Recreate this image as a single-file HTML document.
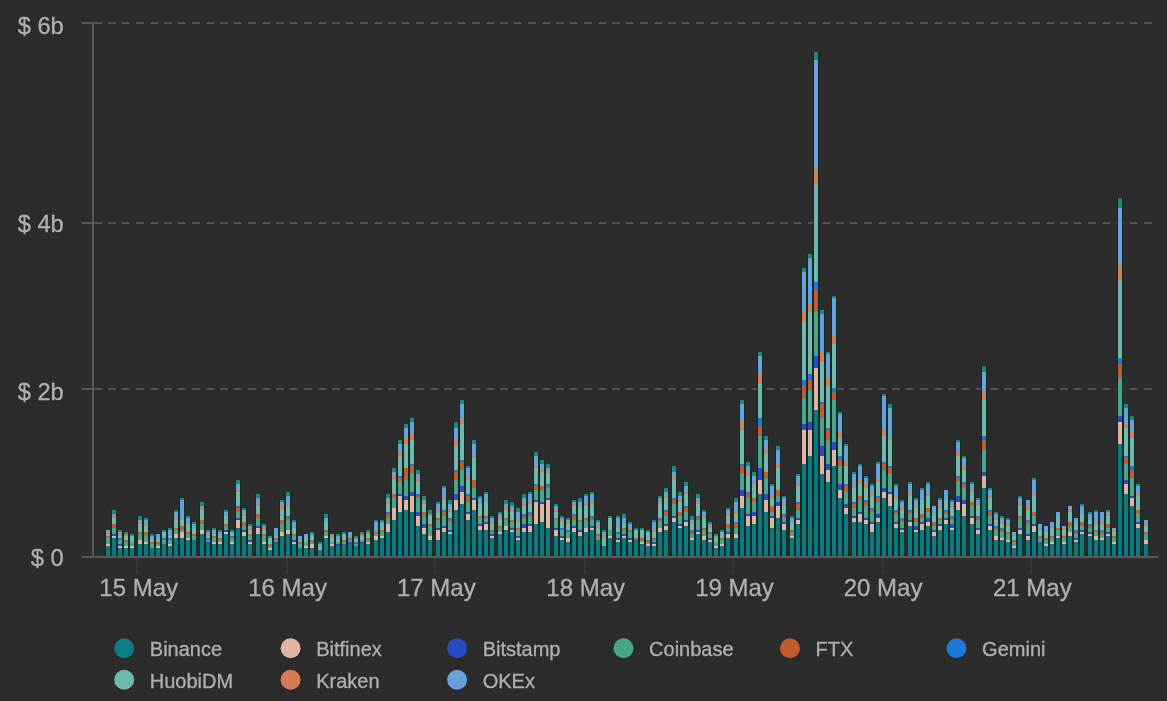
<!DOCTYPE html>
<html><head><meta charset="utf-8"><title>Volume by exchange</title>
<style>
html,body{margin:0;padding:0;background:#2c2c2c;}
body{width:1167px;height:701px;overflow:hidden;}
svg{display:block;}
text{font-family:"Liberation Sans",Arial,sans-serif;fill:#b0b0b0;stroke:#b0b0b0;stroke-width:0.3px;}
.ax{font-size:24px;}
.lg{font-size:20px;}
</style></head><body>
<svg width="1167" height="701" viewBox="0 0 1167 701">
<rect x="0" y="0" width="1167" height="701" fill="#2c2c2c"/>
<g fill="#505050" shape-rendering="crispEdges"><rect x="94" y="22" width="8" height="2"/><rect x="108" y="22" width="8" height="2"/><rect x="122" y="22" width="8" height="2"/><rect x="136" y="22" width="8" height="2"/><rect x="150" y="22" width="8" height="2"/><rect x="164" y="22" width="8" height="2"/><rect x="178" y="22" width="8" height="2"/><rect x="192" y="22" width="8" height="2"/><rect x="206" y="22" width="8" height="2"/><rect x="220" y="22" width="8" height="2"/><rect x="234" y="22" width="8" height="2"/><rect x="248" y="22" width="8" height="2"/><rect x="262" y="22" width="8" height="2"/><rect x="276" y="22" width="8" height="2"/><rect x="290" y="22" width="8" height="2"/><rect x="304" y="22" width="8" height="2"/><rect x="318" y="22" width="8" height="2"/><rect x="332" y="22" width="8" height="2"/><rect x="346" y="22" width="8" height="2"/><rect x="360" y="22" width="8" height="2"/><rect x="374" y="22" width="8" height="2"/><rect x="388" y="22" width="8" height="2"/><rect x="402" y="22" width="8" height="2"/><rect x="416" y="22" width="8" height="2"/><rect x="430" y="22" width="8" height="2"/><rect x="444" y="22" width="8" height="2"/><rect x="458" y="22" width="8" height="2"/><rect x="472" y="22" width="8" height="2"/><rect x="486" y="22" width="8" height="2"/><rect x="500" y="22" width="8" height="2"/><rect x="514" y="22" width="8" height="2"/><rect x="528" y="22" width="8" height="2"/><rect x="542" y="22" width="8" height="2"/><rect x="556" y="22" width="8" height="2"/><rect x="570" y="22" width="8" height="2"/><rect x="584" y="22" width="8" height="2"/><rect x="598" y="22" width="8" height="2"/><rect x="612" y="22" width="8" height="2"/><rect x="626" y="22" width="8" height="2"/><rect x="640" y="22" width="8" height="2"/><rect x="654" y="22" width="8" height="2"/><rect x="668" y="22" width="8" height="2"/><rect x="682" y="22" width="8" height="2"/><rect x="696" y="22" width="8" height="2"/><rect x="710" y="22" width="8" height="2"/><rect x="724" y="22" width="8" height="2"/><rect x="738" y="22" width="8" height="2"/><rect x="752" y="22" width="8" height="2"/><rect x="766" y="22" width="8" height="2"/><rect x="780" y="22" width="8" height="2"/><rect x="794" y="22" width="8" height="2"/><rect x="808" y="22" width="8" height="2"/><rect x="822" y="22" width="8" height="2"/><rect x="836" y="22" width="8" height="2"/><rect x="850" y="22" width="8" height="2"/><rect x="864" y="22" width="8" height="2"/><rect x="878" y="22" width="8" height="2"/><rect x="892" y="22" width="8" height="2"/><rect x="906" y="22" width="8" height="2"/><rect x="920" y="22" width="8" height="2"/><rect x="934" y="22" width="8" height="2"/><rect x="948" y="22" width="8" height="2"/><rect x="962" y="22" width="8" height="2"/><rect x="976" y="22" width="8" height="2"/><rect x="990" y="22" width="8" height="2"/><rect x="1004" y="22" width="8" height="2"/><rect x="1018" y="22" width="8" height="2"/><rect x="1032" y="22" width="8" height="2"/><rect x="1046" y="22" width="8" height="2"/><rect x="1060" y="22" width="8" height="2"/><rect x="1074" y="22" width="8" height="2"/><rect x="1088" y="22" width="8" height="2"/><rect x="1102" y="22" width="8" height="2"/><rect x="1116" y="22" width="8" height="2"/><rect x="1130" y="22" width="8" height="2"/><rect x="1144" y="22" width="8" height="2"/></g>
<g fill="#505050" shape-rendering="crispEdges"><rect x="94" y="222" width="8" height="2"/><rect x="108" y="222" width="8" height="2"/><rect x="122" y="222" width="8" height="2"/><rect x="136" y="222" width="8" height="2"/><rect x="150" y="222" width="8" height="2"/><rect x="164" y="222" width="8" height="2"/><rect x="178" y="222" width="8" height="2"/><rect x="192" y="222" width="8" height="2"/><rect x="206" y="222" width="8" height="2"/><rect x="220" y="222" width="8" height="2"/><rect x="234" y="222" width="8" height="2"/><rect x="248" y="222" width="8" height="2"/><rect x="262" y="222" width="8" height="2"/><rect x="276" y="222" width="8" height="2"/><rect x="290" y="222" width="8" height="2"/><rect x="304" y="222" width="8" height="2"/><rect x="318" y="222" width="8" height="2"/><rect x="332" y="222" width="8" height="2"/><rect x="346" y="222" width="8" height="2"/><rect x="360" y="222" width="8" height="2"/><rect x="374" y="222" width="8" height="2"/><rect x="388" y="222" width="8" height="2"/><rect x="402" y="222" width="8" height="2"/><rect x="416" y="222" width="8" height="2"/><rect x="430" y="222" width="8" height="2"/><rect x="444" y="222" width="8" height="2"/><rect x="458" y="222" width="8" height="2"/><rect x="472" y="222" width="8" height="2"/><rect x="486" y="222" width="8" height="2"/><rect x="500" y="222" width="8" height="2"/><rect x="514" y="222" width="8" height="2"/><rect x="528" y="222" width="8" height="2"/><rect x="542" y="222" width="8" height="2"/><rect x="556" y="222" width="8" height="2"/><rect x="570" y="222" width="8" height="2"/><rect x="584" y="222" width="8" height="2"/><rect x="598" y="222" width="8" height="2"/><rect x="612" y="222" width="8" height="2"/><rect x="626" y="222" width="8" height="2"/><rect x="640" y="222" width="8" height="2"/><rect x="654" y="222" width="8" height="2"/><rect x="668" y="222" width="8" height="2"/><rect x="682" y="222" width="8" height="2"/><rect x="696" y="222" width="8" height="2"/><rect x="710" y="222" width="8" height="2"/><rect x="724" y="222" width="8" height="2"/><rect x="738" y="222" width="8" height="2"/><rect x="752" y="222" width="8" height="2"/><rect x="766" y="222" width="8" height="2"/><rect x="780" y="222" width="8" height="2"/><rect x="794" y="222" width="8" height="2"/><rect x="808" y="222" width="8" height="2"/><rect x="822" y="222" width="8" height="2"/><rect x="836" y="222" width="8" height="2"/><rect x="850" y="222" width="8" height="2"/><rect x="864" y="222" width="8" height="2"/><rect x="878" y="222" width="8" height="2"/><rect x="892" y="222" width="8" height="2"/><rect x="906" y="222" width="8" height="2"/><rect x="920" y="222" width="8" height="2"/><rect x="934" y="222" width="8" height="2"/><rect x="948" y="222" width="8" height="2"/><rect x="962" y="222" width="8" height="2"/><rect x="976" y="222" width="8" height="2"/><rect x="990" y="222" width="8" height="2"/><rect x="1004" y="222" width="8" height="2"/><rect x="1018" y="222" width="8" height="2"/><rect x="1032" y="222" width="8" height="2"/><rect x="1046" y="222" width="8" height="2"/><rect x="1060" y="222" width="8" height="2"/><rect x="1074" y="222" width="8" height="2"/><rect x="1088" y="222" width="8" height="2"/><rect x="1102" y="222" width="8" height="2"/><rect x="1116" y="222" width="8" height="2"/><rect x="1130" y="222" width="8" height="2"/><rect x="1144" y="222" width="8" height="2"/></g>
<g fill="#505050" shape-rendering="crispEdges"><rect x="94" y="388" width="8" height="2"/><rect x="108" y="388" width="8" height="2"/><rect x="122" y="388" width="8" height="2"/><rect x="136" y="388" width="8" height="2"/><rect x="150" y="388" width="8" height="2"/><rect x="164" y="388" width="8" height="2"/><rect x="178" y="388" width="8" height="2"/><rect x="192" y="388" width="8" height="2"/><rect x="206" y="388" width="8" height="2"/><rect x="220" y="388" width="8" height="2"/><rect x="234" y="388" width="8" height="2"/><rect x="248" y="388" width="8" height="2"/><rect x="262" y="388" width="8" height="2"/><rect x="276" y="388" width="8" height="2"/><rect x="290" y="388" width="8" height="2"/><rect x="304" y="388" width="8" height="2"/><rect x="318" y="388" width="8" height="2"/><rect x="332" y="388" width="8" height="2"/><rect x="346" y="388" width="8" height="2"/><rect x="360" y="388" width="8" height="2"/><rect x="374" y="388" width="8" height="2"/><rect x="388" y="388" width="8" height="2"/><rect x="402" y="388" width="8" height="2"/><rect x="416" y="388" width="8" height="2"/><rect x="430" y="388" width="8" height="2"/><rect x="444" y="388" width="8" height="2"/><rect x="458" y="388" width="8" height="2"/><rect x="472" y="388" width="8" height="2"/><rect x="486" y="388" width="8" height="2"/><rect x="500" y="388" width="8" height="2"/><rect x="514" y="388" width="8" height="2"/><rect x="528" y="388" width="8" height="2"/><rect x="542" y="388" width="8" height="2"/><rect x="556" y="388" width="8" height="2"/><rect x="570" y="388" width="8" height="2"/><rect x="584" y="388" width="8" height="2"/><rect x="598" y="388" width="8" height="2"/><rect x="612" y="388" width="8" height="2"/><rect x="626" y="388" width="8" height="2"/><rect x="640" y="388" width="8" height="2"/><rect x="654" y="388" width="8" height="2"/><rect x="668" y="388" width="8" height="2"/><rect x="682" y="388" width="8" height="2"/><rect x="696" y="388" width="8" height="2"/><rect x="710" y="388" width="8" height="2"/><rect x="724" y="388" width="8" height="2"/><rect x="738" y="388" width="8" height="2"/><rect x="752" y="388" width="8" height="2"/><rect x="766" y="388" width="8" height="2"/><rect x="780" y="388" width="8" height="2"/><rect x="794" y="388" width="8" height="2"/><rect x="808" y="388" width="8" height="2"/><rect x="822" y="388" width="8" height="2"/><rect x="836" y="388" width="8" height="2"/><rect x="850" y="388" width="8" height="2"/><rect x="864" y="388" width="8" height="2"/><rect x="878" y="388" width="8" height="2"/><rect x="892" y="388" width="8" height="2"/><rect x="906" y="388" width="8" height="2"/><rect x="920" y="388" width="8" height="2"/><rect x="934" y="388" width="8" height="2"/><rect x="948" y="388" width="8" height="2"/><rect x="962" y="388" width="8" height="2"/><rect x="976" y="388" width="8" height="2"/><rect x="990" y="388" width="8" height="2"/><rect x="1004" y="388" width="8" height="2"/><rect x="1018" y="388" width="8" height="2"/><rect x="1032" y="388" width="8" height="2"/><rect x="1046" y="388" width="8" height="2"/><rect x="1060" y="388" width="8" height="2"/><rect x="1074" y="388" width="8" height="2"/><rect x="1088" y="388" width="8" height="2"/><rect x="1102" y="388" width="8" height="2"/><rect x="1116" y="388" width="8" height="2"/><rect x="1130" y="388" width="8" height="2"/><rect x="1144" y="388" width="8" height="2"/></g>
<rect x="82" y="22" width="12" height="2" fill="#595959" shape-rendering="crispEdges"/>
<rect x="82" y="222" width="12" height="2" fill="#595959" shape-rendering="crispEdges"/>
<rect x="82" y="388" width="12" height="2" fill="#595959" shape-rendering="crispEdges"/>
<rect x="92" y="22" width="2" height="536" fill="#595959" shape-rendering="crispEdges"/>
<rect x="136" y="558" width="2" height="16" fill="#373737" shape-rendering="crispEdges"/>
<rect x="286" y="558" width="2" height="16" fill="#373737" shape-rendering="crispEdges"/>
<rect x="434" y="558" width="2" height="16" fill="#373737" shape-rendering="crispEdges"/>
<rect x="584" y="558" width="2" height="16" fill="#373737" shape-rendering="crispEdges"/>
<rect x="732" y="558" width="2" height="16" fill="#373737" shape-rendering="crispEdges"/>
<rect x="882" y="558" width="2" height="16" fill="#373737" shape-rendering="crispEdges"/>
<rect x="1030" y="558" width="2" height="16" fill="#373737" shape-rendering="crispEdges"/>
<defs><filter id="soft" x="0" y="0" width="1167" height="701" filterUnits="userSpaceOnUse"><feGaussianBlur stdDeviation="0.55"/></filter></defs>
<g shape-rendering="crispEdges" filter="url(#soft)">
<rect x="105" y="530" width="6" height="26" fill="#0d2a26"/>
<rect x="111" y="510" width="6" height="46" fill="#0d2a26"/>
<rect x="117" y="530" width="6" height="26" fill="#0d2a26"/>
<rect x="123" y="532" width="6" height="24" fill="#0d2a26"/>
<rect x="129" y="534" width="6" height="22" fill="#0d2a26"/>
<rect x="137" y="516" width="6" height="40" fill="#0d2a26"/>
<rect x="143" y="518" width="6" height="38" fill="#0d2a26"/>
<rect x="149" y="534" width="6" height="22" fill="#0d2a26"/>
<rect x="155" y="534" width="6" height="22" fill="#0d2a26"/>
<rect x="161" y="530" width="6" height="26" fill="#0d2a26"/>
<rect x="167" y="528" width="6" height="28" fill="#0d2a26"/>
<rect x="173" y="510" width="6" height="46" fill="#0d2a26"/>
<rect x="179" y="498" width="6" height="58" fill="#0d2a26"/>
<rect x="185" y="516" width="6" height="40" fill="#0d2a26"/>
<rect x="191" y="522" width="6" height="34" fill="#0d2a26"/>
<rect x="199" y="502" width="6" height="54" fill="#0d2a26"/>
<rect x="205" y="530" width="6" height="26" fill="#0d2a26"/>
<rect x="211" y="528" width="6" height="28" fill="#0d2a26"/>
<rect x="217" y="530" width="6" height="26" fill="#0d2a26"/>
<rect x="223" y="510" width="6" height="46" fill="#0d2a26"/>
<rect x="229" y="530" width="6" height="26" fill="#0d2a26"/>
<rect x="235" y="480" width="6" height="76" fill="#0d2a26"/>
<rect x="241" y="508" width="6" height="48" fill="#0d2a26"/>
<rect x="247" y="524" width="6" height="32" fill="#0d2a26"/>
<rect x="255" y="494" width="6" height="62" fill="#0d2a26"/>
<rect x="261" y="524" width="6" height="32" fill="#0d2a26"/>
<rect x="267" y="536" width="6" height="20" fill="#0d2a26"/>
<rect x="273" y="528" width="6" height="28" fill="#0d2a26"/>
<rect x="279" y="500" width="6" height="56" fill="#0d2a26"/>
<rect x="285" y="492" width="6" height="64" fill="#0d2a26"/>
<rect x="291" y="520" width="6" height="36" fill="#0d2a26"/>
<rect x="297" y="536" width="6" height="20" fill="#0d2a26"/>
<rect x="303" y="534" width="6" height="22" fill="#0d2a26"/>
<rect x="309" y="532" width="6" height="24" fill="#0d2a26"/>
<rect x="317" y="542" width="6" height="14" fill="#0d2a26"/>
<rect x="323" y="514" width="6" height="42" fill="#0d2a26"/>
<rect x="329" y="534" width="6" height="22" fill="#0d2a26"/>
<rect x="335" y="534" width="6" height="22" fill="#0d2a26"/>
<rect x="341" y="532" width="6" height="24" fill="#0d2a26"/>
<rect x="347" y="532" width="6" height="24" fill="#0d2a26"/>
<rect x="353" y="536" width="6" height="20" fill="#0d2a26"/>
<rect x="359" y="532" width="6" height="24" fill="#0d2a26"/>
<rect x="365" y="530" width="6" height="26" fill="#0d2a26"/>
<rect x="373" y="520" width="6" height="36" fill="#0d2a26"/>
<rect x="379" y="520" width="6" height="36" fill="#0d2a26"/>
<rect x="385" y="494" width="6" height="62" fill="#0d2a26"/>
<rect x="391" y="468" width="6" height="88" fill="#0d2a26"/>
<rect x="397" y="440" width="6" height="116" fill="#0d2a26"/>
<rect x="403" y="424" width="6" height="132" fill="#0d2a26"/>
<rect x="409" y="418" width="6" height="138" fill="#0d2a26"/>
<rect x="415" y="470" width="6" height="86" fill="#0d2a26"/>
<rect x="421" y="496" width="6" height="60" fill="#0d2a26"/>
<rect x="427" y="510" width="6" height="46" fill="#0d2a26"/>
<rect x="435" y="502" width="6" height="54" fill="#0d2a26"/>
<rect x="441" y="486" width="6" height="70" fill="#0d2a26"/>
<rect x="447" y="500" width="6" height="56" fill="#0d2a26"/>
<rect x="453" y="422" width="6" height="134" fill="#0d2a26"/>
<rect x="459" y="400" width="6" height="156" fill="#0d2a26"/>
<rect x="465" y="466" width="6" height="90" fill="#0d2a26"/>
<rect x="471" y="440" width="6" height="116" fill="#0d2a26"/>
<rect x="477" y="496" width="6" height="60" fill="#0d2a26"/>
<rect x="483" y="492" width="6" height="64" fill="#0d2a26"/>
<rect x="489" y="516" width="6" height="40" fill="#0d2a26"/>
<rect x="497" y="512" width="6" height="44" fill="#0d2a26"/>
<rect x="503" y="500" width="6" height="56" fill="#0d2a26"/>
<rect x="509" y="502" width="6" height="54" fill="#0d2a26"/>
<rect x="515" y="508" width="6" height="48" fill="#0d2a26"/>
<rect x="521" y="494" width="6" height="62" fill="#0d2a26"/>
<rect x="527" y="492" width="6" height="64" fill="#0d2a26"/>
<rect x="533" y="452" width="6" height="104" fill="#0d2a26"/>
<rect x="539" y="460" width="6" height="96" fill="#0d2a26"/>
<rect x="545" y="464" width="6" height="92" fill="#0d2a26"/>
<rect x="553" y="504" width="6" height="52" fill="#0d2a26"/>
<rect x="559" y="516" width="6" height="40" fill="#0d2a26"/>
<rect x="565" y="518" width="6" height="38" fill="#0d2a26"/>
<rect x="571" y="500" width="6" height="56" fill="#0d2a26"/>
<rect x="577" y="498" width="6" height="58" fill="#0d2a26"/>
<rect x="583" y="494" width="6" height="62" fill="#0d2a26"/>
<rect x="589" y="492" width="6" height="64" fill="#0d2a26"/>
<rect x="595" y="520" width="6" height="36" fill="#0d2a26"/>
<rect x="601" y="530" width="6" height="26" fill="#0d2a26"/>
<rect x="607" y="516" width="6" height="40" fill="#0d2a26"/>
<rect x="615" y="516" width="6" height="40" fill="#0d2a26"/>
<rect x="621" y="514" width="6" height="42" fill="#0d2a26"/>
<rect x="627" y="522" width="6" height="34" fill="#0d2a26"/>
<rect x="633" y="528" width="6" height="28" fill="#0d2a26"/>
<rect x="639" y="528" width="6" height="28" fill="#0d2a26"/>
<rect x="645" y="530" width="6" height="26" fill="#0d2a26"/>
<rect x="651" y="520" width="6" height="36" fill="#0d2a26"/>
<rect x="657" y="496" width="6" height="60" fill="#0d2a26"/>
<rect x="663" y="488" width="6" height="68" fill="#0d2a26"/>
<rect x="671" y="466" width="6" height="90" fill="#0d2a26"/>
<rect x="677" y="492" width="6" height="64" fill="#0d2a26"/>
<rect x="683" y="482" width="6" height="74" fill="#0d2a26"/>
<rect x="689" y="516" width="6" height="40" fill="#0d2a26"/>
<rect x="695" y="494" width="6" height="62" fill="#0d2a26"/>
<rect x="701" y="510" width="6" height="46" fill="#0d2a26"/>
<rect x="707" y="522" width="6" height="34" fill="#0d2a26"/>
<rect x="713" y="534" width="6" height="22" fill="#0d2a26"/>
<rect x="719" y="530" width="6" height="26" fill="#0d2a26"/>
<rect x="725" y="508" width="6" height="48" fill="#0d2a26"/>
<rect x="733" y="498" width="6" height="58" fill="#0d2a26"/>
<rect x="739" y="400" width="6" height="156" fill="#0d2a26"/>
<rect x="745" y="462" width="6" height="94" fill="#0d2a26"/>
<rect x="751" y="472" width="6" height="84" fill="#0d2a26"/>
<rect x="757" y="352" width="6" height="204" fill="#0d2a26"/>
<rect x="763" y="436" width="6" height="120" fill="#0d2a26"/>
<rect x="769" y="484" width="6" height="72" fill="#0d2a26"/>
<rect x="775" y="446" width="6" height="110" fill="#0d2a26"/>
<rect x="781" y="496" width="6" height="60" fill="#0d2a26"/>
<rect x="789" y="516" width="6" height="40" fill="#0d2a26"/>
<rect x="795" y="474" width="6" height="82" fill="#0d2a26"/>
<rect x="801" y="268" width="6" height="288" fill="#0d2a26"/>
<rect x="807" y="254" width="6" height="302" fill="#0d2a26"/>
<rect x="813" y="52" width="6" height="504" fill="#0d2a26"/>
<rect x="819" y="310" width="6" height="246" fill="#0d2a26"/>
<rect x="825" y="352" width="6" height="204" fill="#0d2a26"/>
<rect x="831" y="296" width="6" height="260" fill="#0d2a26"/>
<rect x="837" y="412" width="6" height="144" fill="#0d2a26"/>
<rect x="843" y="444" width="6" height="112" fill="#0d2a26"/>
<rect x="851" y="472" width="6" height="84" fill="#0d2a26"/>
<rect x="857" y="464" width="6" height="92" fill="#0d2a26"/>
<rect x="863" y="476" width="6" height="80" fill="#0d2a26"/>
<rect x="869" y="484" width="6" height="72" fill="#0d2a26"/>
<rect x="875" y="462" width="6" height="94" fill="#0d2a26"/>
<rect x="881" y="394" width="6" height="162" fill="#0d2a26"/>
<rect x="887" y="404" width="6" height="152" fill="#0d2a26"/>
<rect x="893" y="484" width="6" height="72" fill="#0d2a26"/>
<rect x="899" y="500" width="6" height="56" fill="#0d2a26"/>
<rect x="907" y="482" width="6" height="74" fill="#0d2a26"/>
<rect x="913" y="498" width="6" height="58" fill="#0d2a26"/>
<rect x="919" y="488" width="6" height="68" fill="#0d2a26"/>
<rect x="925" y="482" width="6" height="74" fill="#0d2a26"/>
<rect x="931" y="506" width="6" height="50" fill="#0d2a26"/>
<rect x="937" y="498" width="6" height="58" fill="#0d2a26"/>
<rect x="943" y="490" width="6" height="66" fill="#0d2a26"/>
<rect x="949" y="500" width="6" height="56" fill="#0d2a26"/>
<rect x="955" y="440" width="6" height="116" fill="#0d2a26"/>
<rect x="961" y="456" width="6" height="100" fill="#0d2a26"/>
<rect x="969" y="482" width="6" height="74" fill="#0d2a26"/>
<rect x="975" y="498" width="6" height="58" fill="#0d2a26"/>
<rect x="981" y="366" width="6" height="190" fill="#0d2a26"/>
<rect x="987" y="488" width="6" height="68" fill="#0d2a26"/>
<rect x="993" y="512" width="6" height="44" fill="#0d2a26"/>
<rect x="999" y="516" width="6" height="40" fill="#0d2a26"/>
<rect x="1005" y="518" width="6" height="38" fill="#0d2a26"/>
<rect x="1011" y="532" width="6" height="24" fill="#0d2a26"/>
<rect x="1017" y="496" width="6" height="60" fill="#0d2a26"/>
<rect x="1025" y="500" width="6" height="56" fill="#0d2a26"/>
<rect x="1031" y="478" width="6" height="78" fill="#0d2a26"/>
<rect x="1037" y="524" width="6" height="32" fill="#0d2a26"/>
<rect x="1043" y="526" width="6" height="30" fill="#0d2a26"/>
<rect x="1049" y="522" width="6" height="34" fill="#0d2a26"/>
<rect x="1055" y="512" width="6" height="44" fill="#0d2a26"/>
<rect x="1061" y="526" width="6" height="30" fill="#0d2a26"/>
<rect x="1067" y="506" width="6" height="50" fill="#0d2a26"/>
<rect x="1073" y="518" width="6" height="38" fill="#0d2a26"/>
<rect x="1079" y="504" width="6" height="52" fill="#0d2a26"/>
<rect x="1087" y="512" width="6" height="44" fill="#0d2a26"/>
<rect x="1093" y="510" width="6" height="46" fill="#0d2a26"/>
<rect x="1099" y="512" width="6" height="44" fill="#0d2a26"/>
<rect x="1105" y="510" width="6" height="46" fill="#0d2a26"/>
<rect x="1111" y="528" width="6" height="28" fill="#0d2a26"/>
<rect x="1117" y="198" width="6" height="358" fill="#0d2a26"/>
<rect x="1123" y="404" width="6" height="152" fill="#0d2a26"/>
<rect x="1129" y="416" width="6" height="140" fill="#0d2a26"/>
<rect x="1135" y="484" width="6" height="72" fill="#0d2a26"/>
<rect x="1143" y="520" width="6" height="36" fill="#0d2a26"/>
<rect x="106" y="546" width="4" height="10" fill="#0d797e"/>
<rect x="106" y="544" width="4" height="2" fill="#e0b3a2"/>
<rect x="106" y="538" width="4" height="6" fill="#48a58b"/>
<rect x="106" y="536" width="4" height="2" fill="#c25b2f"/>
<rect x="106" y="534" width="4" height="2" fill="#6fb9ac"/>
<rect x="106" y="532" width="4" height="2" fill="#d67c54"/>
<rect x="106" y="530" width="4" height="2" fill="#66a2d9"/>
<rect x="112" y="538" width="4" height="18" fill="#0d797e"/>
<rect x="112" y="536" width="4" height="2" fill="#e0b3a2"/>
<rect x="112" y="534" width="4" height="2" fill="#2a4bc2"/>
<rect x="112" y="528" width="4" height="6" fill="#48a58b"/>
<rect x="112" y="524" width="4" height="4" fill="#c25b2f"/>
<rect x="112" y="518" width="4" height="6" fill="#6fb9ac"/>
<rect x="112" y="516" width="4" height="2" fill="#d67c54"/>
<rect x="112" y="514" width="4" height="2" fill="#66a2d9"/>
<rect x="112" y="510" width="4" height="4" fill="#1a8b74"/>
<rect x="118" y="548" width="4" height="8" fill="#0d797e"/>
<rect x="118" y="546" width="4" height="2" fill="#e0b3a2"/>
<rect x="118" y="544" width="4" height="2" fill="#2a4bc2"/>
<rect x="118" y="540" width="4" height="4" fill="#48a58b"/>
<rect x="118" y="538" width="4" height="2" fill="#1c78d8"/>
<rect x="118" y="536" width="4" height="2" fill="#6fb9ac"/>
<rect x="118" y="534" width="4" height="2" fill="#d67c54"/>
<rect x="118" y="532" width="4" height="2" fill="#66a2d9"/>
<rect x="118" y="530" width="4" height="2" fill="#1a8b74"/>
<rect x="124" y="548" width="4" height="8" fill="#0d797e"/>
<rect x="124" y="546" width="4" height="2" fill="#e0b3a2"/>
<rect x="124" y="542" width="4" height="4" fill="#48a58b"/>
<rect x="124" y="540" width="4" height="2" fill="#c25b2f"/>
<rect x="124" y="536" width="4" height="4" fill="#6fb9ac"/>
<rect x="124" y="534" width="4" height="2" fill="#d67c54"/>
<rect x="124" y="532" width="4" height="2" fill="#1a8b74"/>
<rect x="130" y="548" width="4" height="8" fill="#0d797e"/>
<rect x="130" y="546" width="4" height="2" fill="#e0b3a2"/>
<rect x="130" y="542" width="4" height="4" fill="#48a58b"/>
<rect x="130" y="536" width="4" height="6" fill="#6fb9ac"/>
<rect x="130" y="534" width="4" height="2" fill="#1a8b74"/>
<rect x="138" y="544" width="4" height="12" fill="#0d797e"/>
<rect x="138" y="540" width="4" height="4" fill="#e0b3a2"/>
<rect x="138" y="534" width="4" height="6" fill="#48a58b"/>
<rect x="138" y="532" width="4" height="2" fill="#c25b2f"/>
<rect x="138" y="524" width="4" height="8" fill="#6fb9ac"/>
<rect x="138" y="522" width="4" height="2" fill="#d67c54"/>
<rect x="138" y="520" width="4" height="2" fill="#66a2d9"/>
<rect x="138" y="516" width="4" height="4" fill="#1a8b74"/>
<rect x="144" y="544" width="4" height="12" fill="#0d797e"/>
<rect x="144" y="542" width="4" height="2" fill="#e0b3a2"/>
<rect x="144" y="536" width="4" height="6" fill="#48a58b"/>
<rect x="144" y="532" width="4" height="4" fill="#c25b2f"/>
<rect x="144" y="526" width="4" height="6" fill="#6fb9ac"/>
<rect x="144" y="524" width="4" height="2" fill="#d67c54"/>
<rect x="144" y="520" width="4" height="4" fill="#66a2d9"/>
<rect x="144" y="518" width="4" height="2" fill="#1a8b74"/>
<rect x="150" y="548" width="4" height="8" fill="#0d797e"/>
<rect x="150" y="544" width="4" height="4" fill="#48a58b"/>
<rect x="150" y="542" width="4" height="2" fill="#c25b2f"/>
<rect x="150" y="540" width="4" height="2" fill="#6fb9ac"/>
<rect x="150" y="536" width="4" height="4" fill="#66a2d9"/>
<rect x="150" y="534" width="4" height="2" fill="#1a8b74"/>
<rect x="156" y="548" width="4" height="8" fill="#0d797e"/>
<rect x="156" y="546" width="4" height="2" fill="#e0b3a2"/>
<rect x="156" y="544" width="4" height="2" fill="#48a58b"/>
<rect x="156" y="542" width="4" height="2" fill="#c25b2f"/>
<rect x="156" y="538" width="4" height="4" fill="#6fb9ac"/>
<rect x="156" y="534" width="4" height="4" fill="#66a2d9"/>
<rect x="162" y="544" width="4" height="12" fill="#0d797e"/>
<rect x="162" y="540" width="4" height="4" fill="#48a58b"/>
<rect x="162" y="538" width="4" height="2" fill="#1c78d8"/>
<rect x="162" y="532" width="4" height="6" fill="#6fb9ac"/>
<rect x="162" y="530" width="4" height="2" fill="#1a8b74"/>
<rect x="168" y="546" width="4" height="10" fill="#0d797e"/>
<rect x="168" y="544" width="4" height="2" fill="#e0b3a2"/>
<rect x="168" y="540" width="4" height="4" fill="#48a58b"/>
<rect x="168" y="538" width="4" height="2" fill="#1c78d8"/>
<rect x="168" y="536" width="4" height="2" fill="#6fb9ac"/>
<rect x="168" y="530" width="4" height="6" fill="#66a2d9"/>
<rect x="168" y="528" width="4" height="2" fill="#1a8b74"/>
<rect x="174" y="538" width="4" height="18" fill="#0d797e"/>
<rect x="174" y="534" width="4" height="4" fill="#e0b3a2"/>
<rect x="174" y="530" width="4" height="4" fill="#48a58b"/>
<rect x="174" y="528" width="4" height="2" fill="#c25b2f"/>
<rect x="174" y="520" width="4" height="8" fill="#6fb9ac"/>
<rect x="174" y="518" width="4" height="2" fill="#d67c54"/>
<rect x="174" y="512" width="4" height="6" fill="#66a2d9"/>
<rect x="174" y="510" width="4" height="2" fill="#1a8b74"/>
<rect x="180" y="538" width="4" height="18" fill="#0d797e"/>
<rect x="180" y="532" width="4" height="6" fill="#e0b3a2"/>
<rect x="180" y="530" width="4" height="2" fill="#48a58b"/>
<rect x="180" y="526" width="4" height="4" fill="#c25b2f"/>
<rect x="180" y="520" width="4" height="6" fill="#6fb9ac"/>
<rect x="180" y="500" width="4" height="20" fill="#66a2d9"/>
<rect x="180" y="498" width="4" height="2" fill="#1a8b74"/>
<rect x="186" y="540" width="4" height="16" fill="#0d797e"/>
<rect x="186" y="538" width="4" height="2" fill="#e0b3a2"/>
<rect x="186" y="534" width="4" height="4" fill="#48a58b"/>
<rect x="186" y="532" width="4" height="2" fill="#c25b2f"/>
<rect x="186" y="524" width="4" height="8" fill="#6fb9ac"/>
<rect x="186" y="518" width="4" height="6" fill="#66a2d9"/>
<rect x="186" y="516" width="4" height="2" fill="#1a8b74"/>
<rect x="192" y="540" width="4" height="16" fill="#0d797e"/>
<rect x="192" y="536" width="4" height="4" fill="#48a58b"/>
<rect x="192" y="534" width="4" height="2" fill="#c25b2f"/>
<rect x="192" y="528" width="4" height="6" fill="#6fb9ac"/>
<rect x="192" y="524" width="4" height="4" fill="#66a2d9"/>
<rect x="192" y="522" width="4" height="2" fill="#1a8b74"/>
<rect x="200" y="534" width="4" height="22" fill="#0d797e"/>
<rect x="200" y="530" width="4" height="4" fill="#e0b3a2"/>
<rect x="200" y="524" width="4" height="6" fill="#48a58b"/>
<rect x="200" y="520" width="4" height="4" fill="#c25b2f"/>
<rect x="200" y="510" width="4" height="10" fill="#6fb9ac"/>
<rect x="200" y="508" width="4" height="2" fill="#d67c54"/>
<rect x="200" y="506" width="4" height="2" fill="#66a2d9"/>
<rect x="200" y="502" width="4" height="4" fill="#1a8b74"/>
<rect x="206" y="544" width="4" height="12" fill="#0d797e"/>
<rect x="206" y="542" width="4" height="2" fill="#2a4bc2"/>
<rect x="206" y="540" width="4" height="2" fill="#48a58b"/>
<rect x="206" y="538" width="4" height="2" fill="#1c78d8"/>
<rect x="206" y="536" width="4" height="2" fill="#6fb9ac"/>
<rect x="206" y="534" width="4" height="2" fill="#d67c54"/>
<rect x="206" y="532" width="4" height="2" fill="#66a2d9"/>
<rect x="206" y="530" width="4" height="2" fill="#1a8b74"/>
<rect x="212" y="544" width="4" height="12" fill="#0d797e"/>
<rect x="212" y="542" width="4" height="2" fill="#e0b3a2"/>
<rect x="212" y="538" width="4" height="4" fill="#48a58b"/>
<rect x="212" y="536" width="4" height="2" fill="#c25b2f"/>
<rect x="212" y="534" width="4" height="2" fill="#6fb9ac"/>
<rect x="212" y="530" width="4" height="4" fill="#66a2d9"/>
<rect x="212" y="528" width="4" height="2" fill="#1a8b74"/>
<rect x="218" y="544" width="4" height="12" fill="#0d797e"/>
<rect x="218" y="542" width="4" height="2" fill="#e0b3a2"/>
<rect x="218" y="540" width="4" height="2" fill="#48a58b"/>
<rect x="218" y="538" width="4" height="2" fill="#c25b2f"/>
<rect x="218" y="536" width="4" height="2" fill="#6fb9ac"/>
<rect x="218" y="532" width="4" height="4" fill="#66a2d9"/>
<rect x="218" y="530" width="4" height="2" fill="#1a8b74"/>
<rect x="224" y="534" width="4" height="22" fill="#0d797e"/>
<rect x="224" y="532" width="4" height="2" fill="#e0b3a2"/>
<rect x="224" y="530" width="4" height="2" fill="#2a4bc2"/>
<rect x="224" y="526" width="4" height="4" fill="#48a58b"/>
<rect x="224" y="524" width="4" height="2" fill="#c25b2f"/>
<rect x="224" y="516" width="4" height="8" fill="#6fb9ac"/>
<rect x="224" y="512" width="4" height="4" fill="#66a2d9"/>
<rect x="224" y="510" width="4" height="2" fill="#1a8b74"/>
<rect x="230" y="544" width="4" height="12" fill="#0d797e"/>
<rect x="230" y="542" width="4" height="2" fill="#e0b3a2"/>
<rect x="230" y="538" width="4" height="4" fill="#48a58b"/>
<rect x="230" y="536" width="4" height="2" fill="#1c78d8"/>
<rect x="230" y="532" width="4" height="4" fill="#6fb9ac"/>
<rect x="230" y="530" width="4" height="2" fill="#1a8b74"/>
<rect x="236" y="528" width="4" height="28" fill="#0d797e"/>
<rect x="236" y="520" width="4" height="8" fill="#e0b3a2"/>
<rect x="236" y="518" width="4" height="2" fill="#2a4bc2"/>
<rect x="236" y="512" width="4" height="6" fill="#48a58b"/>
<rect x="236" y="508" width="4" height="4" fill="#c25b2f"/>
<rect x="236" y="506" width="4" height="2" fill="#1c78d8"/>
<rect x="236" y="492" width="4" height="14" fill="#6fb9ac"/>
<rect x="236" y="490" width="4" height="2" fill="#d67c54"/>
<rect x="236" y="484" width="4" height="6" fill="#66a2d9"/>
<rect x="236" y="480" width="4" height="4" fill="#1a8b74"/>
<rect x="242" y="536" width="4" height="20" fill="#0d797e"/>
<rect x="242" y="532" width="4" height="4" fill="#e0b3a2"/>
<rect x="242" y="530" width="4" height="2" fill="#2a4bc2"/>
<rect x="242" y="526" width="4" height="4" fill="#48a58b"/>
<rect x="242" y="522" width="4" height="4" fill="#c25b2f"/>
<rect x="242" y="516" width="4" height="6" fill="#6fb9ac"/>
<rect x="242" y="514" width="4" height="2" fill="#d67c54"/>
<rect x="242" y="510" width="4" height="4" fill="#66a2d9"/>
<rect x="242" y="508" width="4" height="2" fill="#1a8b74"/>
<rect x="248" y="544" width="4" height="12" fill="#0d797e"/>
<rect x="248" y="542" width="4" height="2" fill="#e0b3a2"/>
<rect x="248" y="540" width="4" height="2" fill="#2a4bc2"/>
<rect x="248" y="536" width="4" height="4" fill="#48a58b"/>
<rect x="248" y="534" width="4" height="2" fill="#c25b2f"/>
<rect x="248" y="530" width="4" height="4" fill="#6fb9ac"/>
<rect x="248" y="528" width="4" height="2" fill="#d67c54"/>
<rect x="248" y="526" width="4" height="2" fill="#66a2d9"/>
<rect x="248" y="524" width="4" height="2" fill="#1a8b74"/>
<rect x="256" y="534" width="4" height="22" fill="#0d797e"/>
<rect x="256" y="528" width="4" height="6" fill="#e0b3a2"/>
<rect x="256" y="526" width="4" height="2" fill="#2a4bc2"/>
<rect x="256" y="518" width="4" height="8" fill="#48a58b"/>
<rect x="256" y="514" width="4" height="4" fill="#c25b2f"/>
<rect x="256" y="506" width="4" height="8" fill="#6fb9ac"/>
<rect x="256" y="504" width="4" height="2" fill="#d67c54"/>
<rect x="256" y="498" width="4" height="6" fill="#66a2d9"/>
<rect x="256" y="494" width="4" height="4" fill="#1a8b74"/>
<rect x="262" y="544" width="4" height="12" fill="#0d797e"/>
<rect x="262" y="542" width="4" height="2" fill="#e0b3a2"/>
<rect x="262" y="536" width="4" height="6" fill="#48a58b"/>
<rect x="262" y="534" width="4" height="2" fill="#c25b2f"/>
<rect x="262" y="530" width="4" height="4" fill="#6fb9ac"/>
<rect x="262" y="528" width="4" height="2" fill="#d67c54"/>
<rect x="262" y="526" width="4" height="2" fill="#66a2d9"/>
<rect x="262" y="524" width="4" height="2" fill="#1a8b74"/>
<rect x="268" y="550" width="4" height="6" fill="#0d797e"/>
<rect x="268" y="548" width="4" height="2" fill="#e0b3a2"/>
<rect x="268" y="546" width="4" height="2" fill="#48a58b"/>
<rect x="268" y="544" width="4" height="2" fill="#c25b2f"/>
<rect x="268" y="538" width="4" height="6" fill="#6fb9ac"/>
<rect x="268" y="536" width="4" height="2" fill="#1a8b74"/>
<rect x="274" y="544" width="4" height="12" fill="#0d797e"/>
<rect x="274" y="542" width="4" height="2" fill="#2a4bc2"/>
<rect x="274" y="540" width="4" height="2" fill="#48a58b"/>
<rect x="274" y="538" width="4" height="2" fill="#c25b2f"/>
<rect x="274" y="536" width="4" height="2" fill="#6fb9ac"/>
<rect x="274" y="528" width="4" height="8" fill="#66a2d9"/>
<rect x="280" y="536" width="4" height="20" fill="#0d797e"/>
<rect x="280" y="532" width="4" height="4" fill="#e0b3a2"/>
<rect x="280" y="524" width="4" height="8" fill="#48a58b"/>
<rect x="280" y="520" width="4" height="4" fill="#c25b2f"/>
<rect x="280" y="510" width="4" height="10" fill="#6fb9ac"/>
<rect x="280" y="506" width="4" height="4" fill="#d67c54"/>
<rect x="280" y="502" width="4" height="4" fill="#66a2d9"/>
<rect x="280" y="500" width="4" height="2" fill="#1a8b74"/>
<rect x="286" y="534" width="4" height="22" fill="#0d797e"/>
<rect x="286" y="530" width="4" height="4" fill="#e0b3a2"/>
<rect x="286" y="520" width="4" height="10" fill="#48a58b"/>
<rect x="286" y="518" width="4" height="2" fill="#c25b2f"/>
<rect x="286" y="516" width="4" height="2" fill="#1c78d8"/>
<rect x="286" y="506" width="4" height="10" fill="#6fb9ac"/>
<rect x="286" y="504" width="4" height="2" fill="#d67c54"/>
<rect x="286" y="496" width="4" height="8" fill="#66a2d9"/>
<rect x="286" y="492" width="4" height="4" fill="#1a8b74"/>
<rect x="292" y="544" width="4" height="12" fill="#0d797e"/>
<rect x="292" y="542" width="4" height="2" fill="#e0b3a2"/>
<rect x="292" y="540" width="4" height="2" fill="#2a4bc2"/>
<rect x="292" y="536" width="4" height="4" fill="#48a58b"/>
<rect x="292" y="534" width="4" height="2" fill="#c25b2f"/>
<rect x="292" y="528" width="4" height="6" fill="#6fb9ac"/>
<rect x="292" y="522" width="4" height="6" fill="#66a2d9"/>
<rect x="292" y="520" width="4" height="2" fill="#1a8b74"/>
<rect x="298" y="548" width="4" height="8" fill="#0d797e"/>
<rect x="298" y="544" width="4" height="4" fill="#48a58b"/>
<rect x="298" y="542" width="4" height="2" fill="#c25b2f"/>
<rect x="298" y="536" width="4" height="6" fill="#66a2d9"/>
<rect x="304" y="548" width="4" height="8" fill="#0d797e"/>
<rect x="304" y="546" width="4" height="2" fill="#e0b3a2"/>
<rect x="304" y="542" width="4" height="4" fill="#48a58b"/>
<rect x="304" y="538" width="4" height="4" fill="#6fb9ac"/>
<rect x="304" y="534" width="4" height="4" fill="#66a2d9"/>
<rect x="310" y="548" width="4" height="8" fill="#0d797e"/>
<rect x="310" y="544" width="4" height="4" fill="#e0b3a2"/>
<rect x="310" y="542" width="4" height="2" fill="#48a58b"/>
<rect x="310" y="540" width="4" height="2" fill="#c25b2f"/>
<rect x="310" y="536" width="4" height="4" fill="#6fb9ac"/>
<rect x="310" y="534" width="4" height="2" fill="#66a2d9"/>
<rect x="310" y="532" width="4" height="2" fill="#1a8b74"/>
<rect x="318" y="550" width="4" height="6" fill="#0d797e"/>
<rect x="318" y="546" width="4" height="4" fill="#6fb9ac"/>
<rect x="318" y="544" width="4" height="2" fill="#66a2d9"/>
<rect x="318" y="542" width="4" height="2" fill="#1a8b74"/>
<rect x="324" y="538" width="4" height="18" fill="#0d797e"/>
<rect x="324" y="536" width="4" height="2" fill="#e0b3a2"/>
<rect x="324" y="532" width="4" height="4" fill="#48a58b"/>
<rect x="324" y="530" width="4" height="2" fill="#c25b2f"/>
<rect x="324" y="522" width="4" height="8" fill="#6fb9ac"/>
<rect x="324" y="518" width="4" height="4" fill="#66a2d9"/>
<rect x="324" y="514" width="4" height="4" fill="#1a8b74"/>
<rect x="330" y="546" width="4" height="10" fill="#0d797e"/>
<rect x="330" y="544" width="4" height="2" fill="#e0b3a2"/>
<rect x="330" y="542" width="4" height="2" fill="#48a58b"/>
<rect x="330" y="538" width="4" height="4" fill="#6fb9ac"/>
<rect x="330" y="536" width="4" height="2" fill="#d67c54"/>
<rect x="330" y="534" width="4" height="2" fill="#66a2d9"/>
<rect x="336" y="546" width="4" height="10" fill="#0d797e"/>
<rect x="336" y="544" width="4" height="2" fill="#2a4bc2"/>
<rect x="336" y="542" width="4" height="2" fill="#48a58b"/>
<rect x="336" y="538" width="4" height="4" fill="#6fb9ac"/>
<rect x="336" y="536" width="4" height="2" fill="#66a2d9"/>
<rect x="336" y="534" width="4" height="2" fill="#1a8b74"/>
<rect x="342" y="544" width="4" height="12" fill="#0d797e"/>
<rect x="342" y="542" width="4" height="2" fill="#48a58b"/>
<rect x="342" y="540" width="4" height="2" fill="#c25b2f"/>
<rect x="342" y="534" width="4" height="6" fill="#6fb9ac"/>
<rect x="342" y="532" width="4" height="2" fill="#1a8b74"/>
<rect x="348" y="544" width="4" height="12" fill="#0d797e"/>
<rect x="348" y="542" width="4" height="2" fill="#2a4bc2"/>
<rect x="348" y="540" width="4" height="2" fill="#48a58b"/>
<rect x="348" y="538" width="4" height="2" fill="#c25b2f"/>
<rect x="348" y="532" width="4" height="6" fill="#66a2d9"/>
<rect x="354" y="546" width="4" height="10" fill="#0d797e"/>
<rect x="354" y="544" width="4" height="2" fill="#48a58b"/>
<rect x="354" y="542" width="4" height="2" fill="#1c78d8"/>
<rect x="354" y="540" width="4" height="2" fill="#6fb9ac"/>
<rect x="354" y="538" width="4" height="2" fill="#d67c54"/>
<rect x="354" y="536" width="4" height="2" fill="#1a8b74"/>
<rect x="360" y="544" width="4" height="12" fill="#0d797e"/>
<rect x="360" y="542" width="4" height="2" fill="#2a4bc2"/>
<rect x="360" y="540" width="4" height="2" fill="#48a58b"/>
<rect x="360" y="536" width="4" height="4" fill="#6fb9ac"/>
<rect x="360" y="534" width="4" height="2" fill="#d67c54"/>
<rect x="360" y="532" width="4" height="2" fill="#1a8b74"/>
<rect x="366" y="544" width="4" height="12" fill="#0d797e"/>
<rect x="366" y="542" width="4" height="2" fill="#e0b3a2"/>
<rect x="366" y="540" width="4" height="2" fill="#48a58b"/>
<rect x="366" y="538" width="4" height="2" fill="#c25b2f"/>
<rect x="366" y="534" width="4" height="4" fill="#6fb9ac"/>
<rect x="366" y="532" width="4" height="2" fill="#d67c54"/>
<rect x="366" y="530" width="4" height="2" fill="#1a8b74"/>
<rect x="374" y="540" width="4" height="16" fill="#0d797e"/>
<rect x="374" y="536" width="4" height="4" fill="#e0b3a2"/>
<rect x="374" y="534" width="4" height="2" fill="#48a58b"/>
<rect x="374" y="532" width="4" height="2" fill="#c25b2f"/>
<rect x="374" y="522" width="4" height="10" fill="#66a2d9"/>
<rect x="374" y="520" width="4" height="2" fill="#1a8b74"/>
<rect x="380" y="538" width="4" height="18" fill="#0d797e"/>
<rect x="380" y="536" width="4" height="2" fill="#e0b3a2"/>
<rect x="380" y="532" width="4" height="4" fill="#48a58b"/>
<rect x="380" y="530" width="4" height="2" fill="#c25b2f"/>
<rect x="380" y="524" width="4" height="6" fill="#6fb9ac"/>
<rect x="380" y="522" width="4" height="2" fill="#66a2d9"/>
<rect x="380" y="520" width="4" height="2" fill="#1a8b74"/>
<rect x="386" y="532" width="4" height="24" fill="#0d797e"/>
<rect x="386" y="524" width="4" height="8" fill="#e0b3a2"/>
<rect x="386" y="518" width="4" height="6" fill="#48a58b"/>
<rect x="386" y="514" width="4" height="4" fill="#c25b2f"/>
<rect x="386" y="512" width="4" height="2" fill="#1c78d8"/>
<rect x="386" y="504" width="4" height="8" fill="#6fb9ac"/>
<rect x="386" y="502" width="4" height="2" fill="#d67c54"/>
<rect x="386" y="498" width="4" height="4" fill="#66a2d9"/>
<rect x="386" y="494" width="4" height="4" fill="#1a8b74"/>
<rect x="392" y="520" width="4" height="36" fill="#0d797e"/>
<rect x="392" y="508" width="4" height="12" fill="#e0b3a2"/>
<rect x="392" y="498" width="4" height="10" fill="#48a58b"/>
<rect x="392" y="494" width="4" height="4" fill="#c25b2f"/>
<rect x="392" y="480" width="4" height="14" fill="#6fb9ac"/>
<rect x="392" y="476" width="4" height="4" fill="#d67c54"/>
<rect x="392" y="472" width="4" height="4" fill="#66a2d9"/>
<rect x="392" y="468" width="4" height="4" fill="#1a8b74"/>
<rect x="398" y="512" width="4" height="44" fill="#0d797e"/>
<rect x="398" y="496" width="4" height="16" fill="#e0b3a2"/>
<rect x="398" y="494" width="4" height="2" fill="#2a4bc2"/>
<rect x="398" y="482" width="4" height="12" fill="#48a58b"/>
<rect x="398" y="478" width="4" height="4" fill="#c25b2f"/>
<rect x="398" y="476" width="4" height="2" fill="#1c78d8"/>
<rect x="398" y="456" width="4" height="20" fill="#6fb9ac"/>
<rect x="398" y="452" width="4" height="4" fill="#d67c54"/>
<rect x="398" y="444" width="4" height="8" fill="#66a2d9"/>
<rect x="398" y="440" width="4" height="4" fill="#1a8b74"/>
<rect x="404" y="510" width="4" height="46" fill="#0d797e"/>
<rect x="404" y="500" width="4" height="10" fill="#e0b3a2"/>
<rect x="404" y="496" width="4" height="4" fill="#2a4bc2"/>
<rect x="404" y="480" width="4" height="16" fill="#48a58b"/>
<rect x="404" y="468" width="4" height="12" fill="#c25b2f"/>
<rect x="404" y="444" width="4" height="24" fill="#6fb9ac"/>
<rect x="404" y="438" width="4" height="6" fill="#d67c54"/>
<rect x="404" y="428" width="4" height="10" fill="#66a2d9"/>
<rect x="404" y="424" width="4" height="4" fill="#1a8b74"/>
<rect x="410" y="512" width="4" height="44" fill="#0d797e"/>
<rect x="410" y="496" width="4" height="16" fill="#e0b3a2"/>
<rect x="410" y="492" width="4" height="4" fill="#2a4bc2"/>
<rect x="410" y="474" width="4" height="18" fill="#48a58b"/>
<rect x="410" y="466" width="4" height="8" fill="#c25b2f"/>
<rect x="410" y="464" width="4" height="2" fill="#1c78d8"/>
<rect x="410" y="440" width="4" height="24" fill="#6fb9ac"/>
<rect x="410" y="434" width="4" height="6" fill="#d67c54"/>
<rect x="410" y="422" width="4" height="12" fill="#66a2d9"/>
<rect x="410" y="418" width="4" height="4" fill="#1a8b74"/>
<rect x="416" y="526" width="4" height="30" fill="#0d797e"/>
<rect x="416" y="516" width="4" height="10" fill="#e0b3a2"/>
<rect x="416" y="512" width="4" height="4" fill="#2a4bc2"/>
<rect x="416" y="498" width="4" height="14" fill="#48a58b"/>
<rect x="416" y="496" width="4" height="2" fill="#c25b2f"/>
<rect x="416" y="494" width="4" height="2" fill="#1c78d8"/>
<rect x="416" y="482" width="4" height="12" fill="#6fb9ac"/>
<rect x="416" y="478" width="4" height="4" fill="#d67c54"/>
<rect x="416" y="474" width="4" height="4" fill="#66a2d9"/>
<rect x="416" y="470" width="4" height="4" fill="#1a8b74"/>
<rect x="422" y="534" width="4" height="22" fill="#0d797e"/>
<rect x="422" y="528" width="4" height="6" fill="#e0b3a2"/>
<rect x="422" y="524" width="4" height="4" fill="#2a4bc2"/>
<rect x="422" y="516" width="4" height="8" fill="#48a58b"/>
<rect x="422" y="512" width="4" height="4" fill="#c25b2f"/>
<rect x="422" y="504" width="4" height="8" fill="#6fb9ac"/>
<rect x="422" y="502" width="4" height="2" fill="#d67c54"/>
<rect x="422" y="500" width="4" height="2" fill="#66a2d9"/>
<rect x="422" y="496" width="4" height="4" fill="#1a8b74"/>
<rect x="428" y="540" width="4" height="16" fill="#0d797e"/>
<rect x="428" y="536" width="4" height="4" fill="#e0b3a2"/>
<rect x="428" y="526" width="4" height="10" fill="#48a58b"/>
<rect x="428" y="524" width="4" height="2" fill="#c25b2f"/>
<rect x="428" y="516" width="4" height="8" fill="#6fb9ac"/>
<rect x="428" y="514" width="4" height="2" fill="#d67c54"/>
<rect x="428" y="510" width="4" height="4" fill="#1a8b74"/>
<rect x="436" y="540" width="4" height="16" fill="#0d797e"/>
<rect x="436" y="530" width="4" height="10" fill="#e0b3a2"/>
<rect x="436" y="528" width="4" height="2" fill="#2a4bc2"/>
<rect x="436" y="520" width="4" height="8" fill="#48a58b"/>
<rect x="436" y="518" width="4" height="2" fill="#c25b2f"/>
<rect x="436" y="512" width="4" height="6" fill="#6fb9ac"/>
<rect x="436" y="510" width="4" height="2" fill="#d67c54"/>
<rect x="436" y="504" width="4" height="6" fill="#66a2d9"/>
<rect x="436" y="502" width="4" height="2" fill="#1a8b74"/>
<rect x="442" y="532" width="4" height="24" fill="#0d797e"/>
<rect x="442" y="528" width="4" height="4" fill="#e0b3a2"/>
<rect x="442" y="526" width="4" height="2" fill="#2a4bc2"/>
<rect x="442" y="516" width="4" height="10" fill="#48a58b"/>
<rect x="442" y="512" width="4" height="4" fill="#c25b2f"/>
<rect x="442" y="510" width="4" height="2" fill="#1c78d8"/>
<rect x="442" y="500" width="4" height="10" fill="#6fb9ac"/>
<rect x="442" y="498" width="4" height="2" fill="#d67c54"/>
<rect x="442" y="488" width="4" height="10" fill="#66a2d9"/>
<rect x="442" y="486" width="4" height="2" fill="#1a8b74"/>
<rect x="448" y="534" width="4" height="22" fill="#0d797e"/>
<rect x="448" y="532" width="4" height="2" fill="#e0b3a2"/>
<rect x="448" y="530" width="4" height="2" fill="#2a4bc2"/>
<rect x="448" y="522" width="4" height="8" fill="#48a58b"/>
<rect x="448" y="520" width="4" height="2" fill="#c25b2f"/>
<rect x="448" y="518" width="4" height="2" fill="#1c78d8"/>
<rect x="448" y="512" width="4" height="6" fill="#6fb9ac"/>
<rect x="448" y="510" width="4" height="2" fill="#d67c54"/>
<rect x="448" y="504" width="4" height="6" fill="#66a2d9"/>
<rect x="448" y="500" width="4" height="4" fill="#1a8b74"/>
<rect x="454" y="510" width="4" height="46" fill="#0d797e"/>
<rect x="454" y="500" width="4" height="10" fill="#e0b3a2"/>
<rect x="454" y="494" width="4" height="6" fill="#2a4bc2"/>
<rect x="454" y="480" width="4" height="14" fill="#48a58b"/>
<rect x="454" y="472" width="4" height="8" fill="#c25b2f"/>
<rect x="454" y="470" width="4" height="2" fill="#1c78d8"/>
<rect x="454" y="446" width="4" height="24" fill="#6fb9ac"/>
<rect x="454" y="440" width="4" height="6" fill="#d67c54"/>
<rect x="454" y="428" width="4" height="12" fill="#66a2d9"/>
<rect x="454" y="422" width="4" height="6" fill="#1a8b74"/>
<rect x="460" y="504" width="4" height="52" fill="#0d797e"/>
<rect x="460" y="492" width="4" height="12" fill="#e0b3a2"/>
<rect x="460" y="486" width="4" height="6" fill="#2a4bc2"/>
<rect x="460" y="470" width="4" height="16" fill="#48a58b"/>
<rect x="460" y="462" width="4" height="8" fill="#c25b2f"/>
<rect x="460" y="460" width="4" height="2" fill="#1c78d8"/>
<rect x="460" y="424" width="4" height="36" fill="#6fb9ac"/>
<rect x="460" y="420" width="4" height="4" fill="#d67c54"/>
<rect x="460" y="404" width="4" height="16" fill="#66a2d9"/>
<rect x="460" y="400" width="4" height="4" fill="#1a8b74"/>
<rect x="466" y="520" width="4" height="36" fill="#0d797e"/>
<rect x="466" y="514" width="4" height="6" fill="#e0b3a2"/>
<rect x="466" y="512" width="4" height="2" fill="#2a4bc2"/>
<rect x="466" y="502" width="4" height="10" fill="#48a58b"/>
<rect x="466" y="496" width="4" height="6" fill="#c25b2f"/>
<rect x="466" y="494" width="4" height="2" fill="#1c78d8"/>
<rect x="466" y="480" width="4" height="14" fill="#6fb9ac"/>
<rect x="466" y="478" width="4" height="2" fill="#d67c54"/>
<rect x="466" y="468" width="4" height="10" fill="#66a2d9"/>
<rect x="466" y="466" width="4" height="2" fill="#1a8b74"/>
<rect x="472" y="510" width="4" height="46" fill="#0d797e"/>
<rect x="472" y="500" width="4" height="10" fill="#e0b3a2"/>
<rect x="472" y="498" width="4" height="2" fill="#2a4bc2"/>
<rect x="472" y="488" width="4" height="10" fill="#48a58b"/>
<rect x="472" y="480" width="4" height="8" fill="#c25b2f"/>
<rect x="472" y="458" width="4" height="22" fill="#6fb9ac"/>
<rect x="472" y="456" width="4" height="2" fill="#d67c54"/>
<rect x="472" y="444" width="4" height="12" fill="#66a2d9"/>
<rect x="472" y="440" width="4" height="4" fill="#1a8b74"/>
<rect x="478" y="530" width="4" height="26" fill="#0d797e"/>
<rect x="478" y="526" width="4" height="4" fill="#e0b3a2"/>
<rect x="478" y="524" width="4" height="2" fill="#2a4bc2"/>
<rect x="478" y="518" width="4" height="6" fill="#48a58b"/>
<rect x="478" y="516" width="4" height="2" fill="#c25b2f"/>
<rect x="478" y="504" width="4" height="12" fill="#6fb9ac"/>
<rect x="478" y="498" width="4" height="6" fill="#66a2d9"/>
<rect x="478" y="496" width="4" height="2" fill="#1a8b74"/>
<rect x="484" y="530" width="4" height="26" fill="#0d797e"/>
<rect x="484" y="524" width="4" height="6" fill="#e0b3a2"/>
<rect x="484" y="522" width="4" height="2" fill="#2a4bc2"/>
<rect x="484" y="518" width="4" height="4" fill="#48a58b"/>
<rect x="484" y="516" width="4" height="2" fill="#c25b2f"/>
<rect x="484" y="502" width="4" height="14" fill="#6fb9ac"/>
<rect x="484" y="494" width="4" height="8" fill="#66a2d9"/>
<rect x="484" y="492" width="4" height="2" fill="#1a8b74"/>
<rect x="490" y="538" width="4" height="18" fill="#0d797e"/>
<rect x="490" y="536" width="4" height="2" fill="#e0b3a2"/>
<rect x="490" y="534" width="4" height="2" fill="#2a4bc2"/>
<rect x="490" y="532" width="4" height="2" fill="#48a58b"/>
<rect x="490" y="530" width="4" height="2" fill="#c25b2f"/>
<rect x="490" y="524" width="4" height="6" fill="#6fb9ac"/>
<rect x="490" y="522" width="4" height="2" fill="#d67c54"/>
<rect x="490" y="518" width="4" height="4" fill="#66a2d9"/>
<rect x="490" y="516" width="4" height="2" fill="#1a8b74"/>
<rect x="498" y="534" width="4" height="22" fill="#0d797e"/>
<rect x="498" y="532" width="4" height="2" fill="#e0b3a2"/>
<rect x="498" y="528" width="4" height="4" fill="#48a58b"/>
<rect x="498" y="526" width="4" height="2" fill="#c25b2f"/>
<rect x="498" y="520" width="4" height="6" fill="#6fb9ac"/>
<rect x="498" y="518" width="4" height="2" fill="#d67c54"/>
<rect x="498" y="514" width="4" height="4" fill="#66a2d9"/>
<rect x="498" y="512" width="4" height="2" fill="#1a8b74"/>
<rect x="504" y="530" width="4" height="26" fill="#0d797e"/>
<rect x="504" y="526" width="4" height="4" fill="#e0b3a2"/>
<rect x="504" y="520" width="4" height="6" fill="#48a58b"/>
<rect x="504" y="518" width="4" height="2" fill="#c25b2f"/>
<rect x="504" y="510" width="4" height="8" fill="#6fb9ac"/>
<rect x="504" y="508" width="4" height="2" fill="#d67c54"/>
<rect x="504" y="504" width="4" height="4" fill="#66a2d9"/>
<rect x="504" y="500" width="4" height="4" fill="#1a8b74"/>
<rect x="510" y="532" width="4" height="24" fill="#0d797e"/>
<rect x="510" y="530" width="4" height="2" fill="#e0b3a2"/>
<rect x="510" y="528" width="4" height="2" fill="#2a4bc2"/>
<rect x="510" y="522" width="4" height="6" fill="#48a58b"/>
<rect x="510" y="520" width="4" height="2" fill="#c25b2f"/>
<rect x="510" y="512" width="4" height="8" fill="#6fb9ac"/>
<rect x="510" y="510" width="4" height="2" fill="#d67c54"/>
<rect x="510" y="506" width="4" height="4" fill="#66a2d9"/>
<rect x="510" y="502" width="4" height="4" fill="#1a8b74"/>
<rect x="516" y="540" width="4" height="16" fill="#0d797e"/>
<rect x="516" y="538" width="4" height="2" fill="#e0b3a2"/>
<rect x="516" y="536" width="4" height="2" fill="#2a4bc2"/>
<rect x="516" y="530" width="4" height="6" fill="#48a58b"/>
<rect x="516" y="528" width="4" height="2" fill="#c25b2f"/>
<rect x="516" y="522" width="4" height="6" fill="#6fb9ac"/>
<rect x="516" y="520" width="4" height="2" fill="#d67c54"/>
<rect x="516" y="512" width="4" height="8" fill="#66a2d9"/>
<rect x="516" y="508" width="4" height="4" fill="#1a8b74"/>
<rect x="522" y="532" width="4" height="24" fill="#0d797e"/>
<rect x="522" y="528" width="4" height="4" fill="#e0b3a2"/>
<rect x="522" y="524" width="4" height="4" fill="#2a4bc2"/>
<rect x="522" y="518" width="4" height="6" fill="#48a58b"/>
<rect x="522" y="516" width="4" height="2" fill="#c25b2f"/>
<rect x="522" y="514" width="4" height="2" fill="#1c78d8"/>
<rect x="522" y="506" width="4" height="8" fill="#6fb9ac"/>
<rect x="522" y="504" width="4" height="2" fill="#d67c54"/>
<rect x="522" y="498" width="4" height="6" fill="#66a2d9"/>
<rect x="522" y="494" width="4" height="4" fill="#1a8b74"/>
<rect x="528" y="532" width="4" height="24" fill="#0d797e"/>
<rect x="528" y="526" width="4" height="6" fill="#e0b3a2"/>
<rect x="528" y="524" width="4" height="2" fill="#2a4bc2"/>
<rect x="528" y="516" width="4" height="8" fill="#48a58b"/>
<rect x="528" y="514" width="4" height="2" fill="#c25b2f"/>
<rect x="528" y="512" width="4" height="2" fill="#1c78d8"/>
<rect x="528" y="504" width="4" height="8" fill="#6fb9ac"/>
<rect x="528" y="502" width="4" height="2" fill="#d67c54"/>
<rect x="528" y="494" width="4" height="8" fill="#66a2d9"/>
<rect x="528" y="492" width="4" height="2" fill="#1a8b74"/>
<rect x="534" y="524" width="4" height="32" fill="#0d797e"/>
<rect x="534" y="502" width="4" height="22" fill="#e0b3a2"/>
<rect x="534" y="500" width="4" height="2" fill="#2a4bc2"/>
<rect x="534" y="490" width="4" height="10" fill="#48a58b"/>
<rect x="534" y="486" width="4" height="4" fill="#c25b2f"/>
<rect x="534" y="484" width="4" height="2" fill="#1c78d8"/>
<rect x="534" y="468" width="4" height="16" fill="#6fb9ac"/>
<rect x="534" y="466" width="4" height="2" fill="#d67c54"/>
<rect x="534" y="456" width="4" height="10" fill="#66a2d9"/>
<rect x="534" y="452" width="4" height="4" fill="#1a8b74"/>
<rect x="540" y="522" width="4" height="34" fill="#0d797e"/>
<rect x="540" y="504" width="4" height="18" fill="#e0b3a2"/>
<rect x="540" y="502" width="4" height="2" fill="#2a4bc2"/>
<rect x="540" y="490" width="4" height="12" fill="#48a58b"/>
<rect x="540" y="486" width="4" height="4" fill="#c25b2f"/>
<rect x="540" y="472" width="4" height="14" fill="#6fb9ac"/>
<rect x="540" y="470" width="4" height="2" fill="#d67c54"/>
<rect x="540" y="464" width="4" height="6" fill="#66a2d9"/>
<rect x="540" y="460" width="4" height="4" fill="#1a8b74"/>
<rect x="546" y="528" width="4" height="28" fill="#0d797e"/>
<rect x="546" y="500" width="4" height="28" fill="#e0b3a2"/>
<rect x="546" y="498" width="4" height="2" fill="#2a4bc2"/>
<rect x="546" y="488" width="4" height="10" fill="#48a58b"/>
<rect x="546" y="486" width="4" height="2" fill="#c25b2f"/>
<rect x="546" y="484" width="4" height="2" fill="#1c78d8"/>
<rect x="546" y="474" width="4" height="10" fill="#6fb9ac"/>
<rect x="546" y="472" width="4" height="2" fill="#d67c54"/>
<rect x="546" y="468" width="4" height="4" fill="#66a2d9"/>
<rect x="546" y="464" width="4" height="4" fill="#1a8b74"/>
<rect x="554" y="536" width="4" height="20" fill="#0d797e"/>
<rect x="554" y="530" width="4" height="6" fill="#e0b3a2"/>
<rect x="554" y="528" width="4" height="2" fill="#2a4bc2"/>
<rect x="554" y="520" width="4" height="8" fill="#48a58b"/>
<rect x="554" y="518" width="4" height="2" fill="#c25b2f"/>
<rect x="554" y="512" width="4" height="6" fill="#6fb9ac"/>
<rect x="554" y="510" width="4" height="2" fill="#d67c54"/>
<rect x="554" y="506" width="4" height="4" fill="#66a2d9"/>
<rect x="554" y="504" width="4" height="2" fill="#1a8b74"/>
<rect x="560" y="540" width="4" height="16" fill="#0d797e"/>
<rect x="560" y="538" width="4" height="2" fill="#e0b3a2"/>
<rect x="560" y="536" width="4" height="2" fill="#2a4bc2"/>
<rect x="560" y="530" width="4" height="6" fill="#48a58b"/>
<rect x="560" y="528" width="4" height="2" fill="#1c78d8"/>
<rect x="560" y="522" width="4" height="6" fill="#6fb9ac"/>
<rect x="560" y="520" width="4" height="2" fill="#d67c54"/>
<rect x="560" y="518" width="4" height="2" fill="#66a2d9"/>
<rect x="560" y="516" width="4" height="2" fill="#1a8b74"/>
<rect x="566" y="542" width="4" height="14" fill="#0d797e"/>
<rect x="566" y="538" width="4" height="4" fill="#e0b3a2"/>
<rect x="566" y="532" width="4" height="6" fill="#48a58b"/>
<rect x="566" y="530" width="4" height="2" fill="#1c78d8"/>
<rect x="566" y="524" width="4" height="6" fill="#6fb9ac"/>
<rect x="566" y="522" width="4" height="2" fill="#d67c54"/>
<rect x="566" y="520" width="4" height="2" fill="#66a2d9"/>
<rect x="566" y="518" width="4" height="2" fill="#1a8b74"/>
<rect x="572" y="532" width="4" height="24" fill="#0d797e"/>
<rect x="572" y="528" width="4" height="4" fill="#e0b3a2"/>
<rect x="572" y="526" width="4" height="2" fill="#2a4bc2"/>
<rect x="572" y="520" width="4" height="6" fill="#48a58b"/>
<rect x="572" y="516" width="4" height="4" fill="#c25b2f"/>
<rect x="572" y="514" width="4" height="2" fill="#1c78d8"/>
<rect x="572" y="506" width="4" height="8" fill="#6fb9ac"/>
<rect x="572" y="504" width="4" height="2" fill="#d67c54"/>
<rect x="572" y="502" width="4" height="2" fill="#66a2d9"/>
<rect x="572" y="500" width="4" height="2" fill="#1a8b74"/>
<rect x="578" y="536" width="4" height="20" fill="#0d797e"/>
<rect x="578" y="532" width="4" height="4" fill="#e0b3a2"/>
<rect x="578" y="530" width="4" height="2" fill="#2a4bc2"/>
<rect x="578" y="522" width="4" height="8" fill="#48a58b"/>
<rect x="578" y="520" width="4" height="2" fill="#c25b2f"/>
<rect x="578" y="506" width="4" height="14" fill="#6fb9ac"/>
<rect x="578" y="502" width="4" height="4" fill="#66a2d9"/>
<rect x="578" y="498" width="4" height="4" fill="#1a8b74"/>
<rect x="584" y="532" width="4" height="24" fill="#0d797e"/>
<rect x="584" y="528" width="4" height="4" fill="#e0b3a2"/>
<rect x="584" y="520" width="4" height="8" fill="#48a58b"/>
<rect x="584" y="518" width="4" height="2" fill="#c25b2f"/>
<rect x="584" y="506" width="4" height="12" fill="#6fb9ac"/>
<rect x="584" y="504" width="4" height="2" fill="#d67c54"/>
<rect x="584" y="496" width="4" height="8" fill="#66a2d9"/>
<rect x="584" y="494" width="4" height="2" fill="#1a8b74"/>
<rect x="590" y="530" width="4" height="26" fill="#0d797e"/>
<rect x="590" y="528" width="4" height="2" fill="#e0b3a2"/>
<rect x="590" y="526" width="4" height="2" fill="#2a4bc2"/>
<rect x="590" y="520" width="4" height="6" fill="#48a58b"/>
<rect x="590" y="518" width="4" height="2" fill="#c25b2f"/>
<rect x="590" y="516" width="4" height="2" fill="#1c78d8"/>
<rect x="590" y="504" width="4" height="12" fill="#6fb9ac"/>
<rect x="590" y="502" width="4" height="2" fill="#d67c54"/>
<rect x="590" y="494" width="4" height="8" fill="#66a2d9"/>
<rect x="590" y="492" width="4" height="2" fill="#1a8b74"/>
<rect x="596" y="540" width="4" height="16" fill="#0d797e"/>
<rect x="596" y="536" width="4" height="4" fill="#48a58b"/>
<rect x="596" y="534" width="4" height="2" fill="#c25b2f"/>
<rect x="596" y="528" width="4" height="6" fill="#6fb9ac"/>
<rect x="596" y="526" width="4" height="2" fill="#d67c54"/>
<rect x="596" y="522" width="4" height="4" fill="#66a2d9"/>
<rect x="596" y="520" width="4" height="2" fill="#1a8b74"/>
<rect x="602" y="546" width="4" height="10" fill="#0d797e"/>
<rect x="602" y="538" width="4" height="8" fill="#6fb9ac"/>
<rect x="602" y="536" width="4" height="2" fill="#d67c54"/>
<rect x="602" y="532" width="4" height="4" fill="#66a2d9"/>
<rect x="602" y="530" width="4" height="2" fill="#1a8b74"/>
<rect x="608" y="538" width="4" height="18" fill="#0d797e"/>
<rect x="608" y="536" width="4" height="2" fill="#e0b3a2"/>
<rect x="608" y="530" width="4" height="6" fill="#48a58b"/>
<rect x="608" y="518" width="4" height="12" fill="#6fb9ac"/>
<rect x="608" y="516" width="4" height="2" fill="#1a8b74"/>
<rect x="616" y="542" width="4" height="14" fill="#0d797e"/>
<rect x="616" y="540" width="4" height="2" fill="#e0b3a2"/>
<rect x="616" y="538" width="4" height="2" fill="#2a4bc2"/>
<rect x="616" y="534" width="4" height="4" fill="#48a58b"/>
<rect x="616" y="532" width="4" height="2" fill="#1c78d8"/>
<rect x="616" y="528" width="4" height="4" fill="#6fb9ac"/>
<rect x="616" y="518" width="4" height="10" fill="#66a2d9"/>
<rect x="616" y="516" width="4" height="2" fill="#1a8b74"/>
<rect x="622" y="538" width="4" height="18" fill="#0d797e"/>
<rect x="622" y="536" width="4" height="2" fill="#e0b3a2"/>
<rect x="622" y="534" width="4" height="2" fill="#2a4bc2"/>
<rect x="622" y="530" width="4" height="4" fill="#48a58b"/>
<rect x="622" y="528" width="4" height="2" fill="#c25b2f"/>
<rect x="622" y="524" width="4" height="4" fill="#6fb9ac"/>
<rect x="622" y="518" width="4" height="6" fill="#66a2d9"/>
<rect x="622" y="514" width="4" height="4" fill="#1a8b74"/>
<rect x="628" y="542" width="4" height="14" fill="#0d797e"/>
<rect x="628" y="540" width="4" height="2" fill="#e0b3a2"/>
<rect x="628" y="538" width="4" height="2" fill="#2a4bc2"/>
<rect x="628" y="532" width="4" height="6" fill="#48a58b"/>
<rect x="628" y="530" width="4" height="2" fill="#c25b2f"/>
<rect x="628" y="524" width="4" height="6" fill="#66a2d9"/>
<rect x="628" y="522" width="4" height="2" fill="#1a8b74"/>
<rect x="634" y="540" width="4" height="16" fill="#0d797e"/>
<rect x="634" y="538" width="4" height="2" fill="#c25b2f"/>
<rect x="634" y="530" width="4" height="8" fill="#6fb9ac"/>
<rect x="634" y="528" width="4" height="2" fill="#1a8b74"/>
<rect x="640" y="544" width="4" height="12" fill="#0d797e"/>
<rect x="640" y="542" width="4" height="2" fill="#e0b3a2"/>
<rect x="640" y="540" width="4" height="2" fill="#48a58b"/>
<rect x="640" y="538" width="4" height="2" fill="#c25b2f"/>
<rect x="640" y="530" width="4" height="8" fill="#6fb9ac"/>
<rect x="640" y="528" width="4" height="2" fill="#1a8b74"/>
<rect x="646" y="546" width="4" height="10" fill="#0d797e"/>
<rect x="646" y="544" width="4" height="2" fill="#e0b3a2"/>
<rect x="646" y="542" width="4" height="2" fill="#48a58b"/>
<rect x="646" y="540" width="4" height="2" fill="#c25b2f"/>
<rect x="646" y="532" width="4" height="8" fill="#6fb9ac"/>
<rect x="646" y="530" width="4" height="2" fill="#1a8b74"/>
<rect x="652" y="546" width="4" height="10" fill="#0d797e"/>
<rect x="652" y="544" width="4" height="2" fill="#e0b3a2"/>
<rect x="652" y="542" width="4" height="2" fill="#2a4bc2"/>
<rect x="652" y="540" width="4" height="2" fill="#48a58b"/>
<rect x="652" y="538" width="4" height="2" fill="#c25b2f"/>
<rect x="652" y="532" width="4" height="6" fill="#6fb9ac"/>
<rect x="652" y="530" width="4" height="2" fill="#d67c54"/>
<rect x="652" y="522" width="4" height="8" fill="#66a2d9"/>
<rect x="652" y="520" width="4" height="2" fill="#1a8b74"/>
<rect x="658" y="532" width="4" height="24" fill="#0d797e"/>
<rect x="658" y="528" width="4" height="4" fill="#e0b3a2"/>
<rect x="658" y="522" width="4" height="6" fill="#48a58b"/>
<rect x="658" y="520" width="4" height="2" fill="#c25b2f"/>
<rect x="658" y="518" width="4" height="2" fill="#1c78d8"/>
<rect x="658" y="504" width="4" height="14" fill="#6fb9ac"/>
<rect x="658" y="502" width="4" height="2" fill="#d67c54"/>
<rect x="658" y="498" width="4" height="4" fill="#66a2d9"/>
<rect x="658" y="496" width="4" height="2" fill="#1a8b74"/>
<rect x="664" y="530" width="4" height="26" fill="#0d797e"/>
<rect x="664" y="526" width="4" height="4" fill="#e0b3a2"/>
<rect x="664" y="524" width="4" height="2" fill="#2a4bc2"/>
<rect x="664" y="516" width="4" height="8" fill="#48a58b"/>
<rect x="664" y="512" width="4" height="4" fill="#c25b2f"/>
<rect x="664" y="510" width="4" height="2" fill="#1c78d8"/>
<rect x="664" y="498" width="4" height="12" fill="#6fb9ac"/>
<rect x="664" y="496" width="4" height="2" fill="#d67c54"/>
<rect x="664" y="492" width="4" height="4" fill="#66a2d9"/>
<rect x="664" y="488" width="4" height="4" fill="#1a8b74"/>
<rect x="672" y="522" width="4" height="34" fill="#0d797e"/>
<rect x="672" y="518" width="4" height="4" fill="#e0b3a2"/>
<rect x="672" y="516" width="4" height="2" fill="#2a4bc2"/>
<rect x="672" y="504" width="4" height="12" fill="#48a58b"/>
<rect x="672" y="500" width="4" height="4" fill="#c25b2f"/>
<rect x="672" y="498" width="4" height="2" fill="#1c78d8"/>
<rect x="672" y="480" width="4" height="18" fill="#6fb9ac"/>
<rect x="672" y="478" width="4" height="2" fill="#d67c54"/>
<rect x="672" y="472" width="4" height="6" fill="#66a2d9"/>
<rect x="672" y="466" width="4" height="6" fill="#1a8b74"/>
<rect x="678" y="528" width="4" height="28" fill="#0d797e"/>
<rect x="678" y="526" width="4" height="2" fill="#e0b3a2"/>
<rect x="678" y="524" width="4" height="2" fill="#2a4bc2"/>
<rect x="678" y="516" width="4" height="8" fill="#48a58b"/>
<rect x="678" y="512" width="4" height="4" fill="#c25b2f"/>
<rect x="678" y="502" width="4" height="10" fill="#6fb9ac"/>
<rect x="678" y="500" width="4" height="2" fill="#d67c54"/>
<rect x="678" y="496" width="4" height="4" fill="#66a2d9"/>
<rect x="678" y="492" width="4" height="4" fill="#1a8b74"/>
<rect x="684" y="526" width="4" height="30" fill="#0d797e"/>
<rect x="684" y="522" width="4" height="4" fill="#e0b3a2"/>
<rect x="684" y="520" width="4" height="2" fill="#2a4bc2"/>
<rect x="684" y="512" width="4" height="8" fill="#48a58b"/>
<rect x="684" y="508" width="4" height="4" fill="#c25b2f"/>
<rect x="684" y="506" width="4" height="2" fill="#1c78d8"/>
<rect x="684" y="494" width="4" height="12" fill="#6fb9ac"/>
<rect x="684" y="492" width="4" height="2" fill="#d67c54"/>
<rect x="684" y="486" width="4" height="6" fill="#66a2d9"/>
<rect x="684" y="482" width="4" height="4" fill="#1a8b74"/>
<rect x="690" y="540" width="4" height="16" fill="#0d797e"/>
<rect x="690" y="538" width="4" height="2" fill="#e0b3a2"/>
<rect x="690" y="534" width="4" height="4" fill="#48a58b"/>
<rect x="690" y="532" width="4" height="2" fill="#c25b2f"/>
<rect x="690" y="530" width="4" height="2" fill="#1c78d8"/>
<rect x="690" y="524" width="4" height="6" fill="#6fb9ac"/>
<rect x="690" y="522" width="4" height="2" fill="#d67c54"/>
<rect x="690" y="520" width="4" height="2" fill="#66a2d9"/>
<rect x="690" y="516" width="4" height="4" fill="#1a8b74"/>
<rect x="696" y="534" width="4" height="22" fill="#0d797e"/>
<rect x="696" y="532" width="4" height="2" fill="#e0b3a2"/>
<rect x="696" y="530" width="4" height="2" fill="#2a4bc2"/>
<rect x="696" y="520" width="4" height="10" fill="#48a58b"/>
<rect x="696" y="518" width="4" height="2" fill="#c25b2f"/>
<rect x="696" y="516" width="4" height="2" fill="#1c78d8"/>
<rect x="696" y="504" width="4" height="12" fill="#6fb9ac"/>
<rect x="696" y="502" width="4" height="2" fill="#d67c54"/>
<rect x="696" y="498" width="4" height="4" fill="#66a2d9"/>
<rect x="696" y="494" width="4" height="4" fill="#1a8b74"/>
<rect x="702" y="540" width="4" height="16" fill="#0d797e"/>
<rect x="702" y="536" width="4" height="4" fill="#e0b3a2"/>
<rect x="702" y="530" width="4" height="6" fill="#48a58b"/>
<rect x="702" y="528" width="4" height="2" fill="#c25b2f"/>
<rect x="702" y="518" width="4" height="10" fill="#6fb9ac"/>
<rect x="702" y="516" width="4" height="2" fill="#d67c54"/>
<rect x="702" y="512" width="4" height="4" fill="#66a2d9"/>
<rect x="702" y="510" width="4" height="2" fill="#1a8b74"/>
<rect x="708" y="542" width="4" height="14" fill="#0d797e"/>
<rect x="708" y="540" width="4" height="2" fill="#e0b3a2"/>
<rect x="708" y="538" width="4" height="2" fill="#2a4bc2"/>
<rect x="708" y="534" width="4" height="4" fill="#48a58b"/>
<rect x="708" y="532" width="4" height="2" fill="#c25b2f"/>
<rect x="708" y="528" width="4" height="4" fill="#6fb9ac"/>
<rect x="708" y="526" width="4" height="2" fill="#d67c54"/>
<rect x="708" y="524" width="4" height="2" fill="#66a2d9"/>
<rect x="708" y="522" width="4" height="2" fill="#1a8b74"/>
<rect x="714" y="548" width="4" height="8" fill="#0d797e"/>
<rect x="714" y="546" width="4" height="2" fill="#e0b3a2"/>
<rect x="714" y="542" width="4" height="4" fill="#48a58b"/>
<rect x="714" y="538" width="4" height="4" fill="#6fb9ac"/>
<rect x="714" y="536" width="4" height="2" fill="#d67c54"/>
<rect x="714" y="534" width="4" height="2" fill="#1a8b74"/>
<rect x="720" y="546" width="4" height="10" fill="#0d797e"/>
<rect x="720" y="544" width="4" height="2" fill="#e0b3a2"/>
<rect x="720" y="540" width="4" height="4" fill="#48a58b"/>
<rect x="720" y="538" width="4" height="2" fill="#c25b2f"/>
<rect x="720" y="532" width="4" height="6" fill="#6fb9ac"/>
<rect x="720" y="530" width="4" height="2" fill="#1a8b74"/>
<rect x="726" y="538" width="4" height="18" fill="#0d797e"/>
<rect x="726" y="534" width="4" height="4" fill="#e0b3a2"/>
<rect x="726" y="532" width="4" height="2" fill="#2a4bc2"/>
<rect x="726" y="528" width="4" height="4" fill="#48a58b"/>
<rect x="726" y="524" width="4" height="4" fill="#c25b2f"/>
<rect x="726" y="516" width="4" height="8" fill="#6fb9ac"/>
<rect x="726" y="514" width="4" height="2" fill="#d67c54"/>
<rect x="726" y="510" width="4" height="4" fill="#66a2d9"/>
<rect x="726" y="508" width="4" height="2" fill="#1a8b74"/>
<rect x="734" y="538" width="4" height="18" fill="#0d797e"/>
<rect x="734" y="534" width="4" height="4" fill="#e0b3a2"/>
<rect x="734" y="528" width="4" height="6" fill="#48a58b"/>
<rect x="734" y="524" width="4" height="4" fill="#c25b2f"/>
<rect x="734" y="522" width="4" height="2" fill="#1c78d8"/>
<rect x="734" y="514" width="4" height="8" fill="#6fb9ac"/>
<rect x="734" y="512" width="4" height="2" fill="#d67c54"/>
<rect x="734" y="502" width="4" height="10" fill="#66a2d9"/>
<rect x="734" y="498" width="4" height="4" fill="#1a8b74"/>
<rect x="740" y="508" width="4" height="48" fill="#0d797e"/>
<rect x="740" y="496" width="4" height="12" fill="#e0b3a2"/>
<rect x="740" y="490" width="4" height="6" fill="#2a4bc2"/>
<rect x="740" y="474" width="4" height="16" fill="#48a58b"/>
<rect x="740" y="466" width="4" height="8" fill="#c25b2f"/>
<rect x="740" y="464" width="4" height="2" fill="#1c78d8"/>
<rect x="740" y="430" width="4" height="34" fill="#6fb9ac"/>
<rect x="740" y="422" width="4" height="8" fill="#d67c54"/>
<rect x="740" y="404" width="4" height="18" fill="#66a2d9"/>
<rect x="740" y="400" width="4" height="4" fill="#1a8b74"/>
<rect x="746" y="526" width="4" height="30" fill="#0d797e"/>
<rect x="746" y="516" width="4" height="10" fill="#e0b3a2"/>
<rect x="746" y="514" width="4" height="2" fill="#2a4bc2"/>
<rect x="746" y="498" width="4" height="16" fill="#48a58b"/>
<rect x="746" y="494" width="4" height="4" fill="#c25b2f"/>
<rect x="746" y="492" width="4" height="2" fill="#1c78d8"/>
<rect x="746" y="476" width="4" height="16" fill="#6fb9ac"/>
<rect x="746" y="472" width="4" height="4" fill="#d67c54"/>
<rect x="746" y="466" width="4" height="6" fill="#66a2d9"/>
<rect x="746" y="462" width="4" height="4" fill="#1a8b74"/>
<rect x="752" y="524" width="4" height="32" fill="#0d797e"/>
<rect x="752" y="516" width="4" height="8" fill="#e0b3a2"/>
<rect x="752" y="512" width="4" height="4" fill="#2a4bc2"/>
<rect x="752" y="502" width="4" height="10" fill="#48a58b"/>
<rect x="752" y="498" width="4" height="4" fill="#c25b2f"/>
<rect x="752" y="484" width="4" height="14" fill="#6fb9ac"/>
<rect x="752" y="482" width="4" height="2" fill="#d67c54"/>
<rect x="752" y="476" width="4" height="6" fill="#66a2d9"/>
<rect x="752" y="472" width="4" height="4" fill="#1a8b74"/>
<rect x="758" y="494" width="4" height="62" fill="#0d797e"/>
<rect x="758" y="480" width="4" height="14" fill="#e0b3a2"/>
<rect x="758" y="468" width="4" height="12" fill="#2a4bc2"/>
<rect x="758" y="436" width="4" height="32" fill="#48a58b"/>
<rect x="758" y="426" width="4" height="10" fill="#c25b2f"/>
<rect x="758" y="418" width="4" height="8" fill="#1c78d8"/>
<rect x="758" y="384" width="4" height="34" fill="#6fb9ac"/>
<rect x="758" y="374" width="4" height="10" fill="#d67c54"/>
<rect x="758" y="356" width="4" height="18" fill="#66a2d9"/>
<rect x="758" y="352" width="4" height="4" fill="#1a8b74"/>
<rect x="764" y="512" width="4" height="44" fill="#0d797e"/>
<rect x="764" y="500" width="4" height="12" fill="#e0b3a2"/>
<rect x="764" y="494" width="4" height="6" fill="#2a4bc2"/>
<rect x="764" y="478" width="4" height="16" fill="#48a58b"/>
<rect x="764" y="472" width="4" height="6" fill="#c25b2f"/>
<rect x="764" y="454" width="4" height="18" fill="#6fb9ac"/>
<rect x="764" y="450" width="4" height="4" fill="#d67c54"/>
<rect x="764" y="440" width="4" height="10" fill="#66a2d9"/>
<rect x="764" y="436" width="4" height="4" fill="#1a8b74"/>
<rect x="770" y="528" width="4" height="28" fill="#0d797e"/>
<rect x="770" y="518" width="4" height="10" fill="#e0b3a2"/>
<rect x="770" y="516" width="4" height="2" fill="#2a4bc2"/>
<rect x="770" y="512" width="4" height="4" fill="#48a58b"/>
<rect x="770" y="506" width="4" height="6" fill="#c25b2f"/>
<rect x="770" y="498" width="4" height="8" fill="#6fb9ac"/>
<rect x="770" y="496" width="4" height="2" fill="#d67c54"/>
<rect x="770" y="486" width="4" height="10" fill="#66a2d9"/>
<rect x="770" y="484" width="4" height="2" fill="#1a8b74"/>
<rect x="776" y="518" width="4" height="38" fill="#0d797e"/>
<rect x="776" y="506" width="4" height="12" fill="#e0b3a2"/>
<rect x="776" y="502" width="4" height="4" fill="#2a4bc2"/>
<rect x="776" y="496" width="4" height="6" fill="#48a58b"/>
<rect x="776" y="490" width="4" height="6" fill="#c25b2f"/>
<rect x="776" y="468" width="4" height="22" fill="#6fb9ac"/>
<rect x="776" y="464" width="4" height="4" fill="#d67c54"/>
<rect x="776" y="450" width="4" height="14" fill="#66a2d9"/>
<rect x="776" y="446" width="4" height="4" fill="#1a8b74"/>
<rect x="782" y="530" width="4" height="26" fill="#0d797e"/>
<rect x="782" y="524" width="4" height="6" fill="#e0b3a2"/>
<rect x="782" y="522" width="4" height="2" fill="#2a4bc2"/>
<rect x="782" y="518" width="4" height="4" fill="#48a58b"/>
<rect x="782" y="516" width="4" height="2" fill="#c25b2f"/>
<rect x="782" y="514" width="4" height="2" fill="#1c78d8"/>
<rect x="782" y="506" width="4" height="8" fill="#6fb9ac"/>
<rect x="782" y="504" width="4" height="2" fill="#d67c54"/>
<rect x="782" y="498" width="4" height="6" fill="#66a2d9"/>
<rect x="782" y="496" width="4" height="2" fill="#1a8b74"/>
<rect x="790" y="538" width="4" height="18" fill="#0d797e"/>
<rect x="790" y="536" width="4" height="2" fill="#e0b3a2"/>
<rect x="790" y="532" width="4" height="4" fill="#48a58b"/>
<rect x="790" y="530" width="4" height="2" fill="#c25b2f"/>
<rect x="790" y="522" width="4" height="8" fill="#6fb9ac"/>
<rect x="790" y="518" width="4" height="4" fill="#66a2d9"/>
<rect x="790" y="516" width="4" height="2" fill="#1a8b74"/>
<rect x="796" y="524" width="4" height="32" fill="#0d797e"/>
<rect x="796" y="520" width="4" height="4" fill="#e0b3a2"/>
<rect x="796" y="518" width="4" height="2" fill="#2a4bc2"/>
<rect x="796" y="510" width="4" height="8" fill="#48a58b"/>
<rect x="796" y="504" width="4" height="6" fill="#c25b2f"/>
<rect x="796" y="502" width="4" height="2" fill="#1c78d8"/>
<rect x="796" y="486" width="4" height="16" fill="#6fb9ac"/>
<rect x="796" y="484" width="4" height="2" fill="#d67c54"/>
<rect x="796" y="476" width="4" height="8" fill="#66a2d9"/>
<rect x="796" y="474" width="4" height="2" fill="#1a8b74"/>
<rect x="802" y="464" width="4" height="92" fill="#0d797e"/>
<rect x="802" y="430" width="4" height="34" fill="#e0b3a2"/>
<rect x="802" y="424" width="4" height="6" fill="#2a4bc2"/>
<rect x="802" y="398" width="4" height="26" fill="#48a58b"/>
<rect x="802" y="386" width="4" height="12" fill="#c25b2f"/>
<rect x="802" y="380" width="4" height="6" fill="#1c78d8"/>
<rect x="802" y="322" width="4" height="58" fill="#6fb9ac"/>
<rect x="802" y="312" width="4" height="10" fill="#d67c54"/>
<rect x="802" y="272" width="4" height="40" fill="#66a2d9"/>
<rect x="802" y="268" width="4" height="4" fill="#1a8b74"/>
<rect x="808" y="456" width="4" height="100" fill="#0d797e"/>
<rect x="808" y="430" width="4" height="26" fill="#e0b3a2"/>
<rect x="808" y="422" width="4" height="8" fill="#2a4bc2"/>
<rect x="808" y="390" width="4" height="32" fill="#48a58b"/>
<rect x="808" y="380" width="4" height="10" fill="#c25b2f"/>
<rect x="808" y="374" width="4" height="6" fill="#1c78d8"/>
<rect x="808" y="312" width="4" height="62" fill="#6fb9ac"/>
<rect x="808" y="304" width="4" height="8" fill="#d67c54"/>
<rect x="808" y="258" width="4" height="46" fill="#66a2d9"/>
<rect x="808" y="254" width="4" height="4" fill="#1a8b74"/>
<rect x="814" y="410" width="4" height="146" fill="#0d797e"/>
<rect x="814" y="368" width="4" height="42" fill="#e0b3a2"/>
<rect x="814" y="356" width="4" height="12" fill="#2a4bc2"/>
<rect x="814" y="312" width="4" height="44" fill="#48a58b"/>
<rect x="814" y="290" width="4" height="22" fill="#c25b2f"/>
<rect x="814" y="282" width="4" height="8" fill="#1c78d8"/>
<rect x="814" y="184" width="4" height="98" fill="#6fb9ac"/>
<rect x="814" y="168" width="4" height="16" fill="#d67c54"/>
<rect x="814" y="60" width="4" height="108" fill="#66a2d9"/>
<rect x="814" y="52" width="4" height="8" fill="#1a8b74"/>
<rect x="820" y="474" width="4" height="82" fill="#0d797e"/>
<rect x="820" y="456" width="4" height="18" fill="#e0b3a2"/>
<rect x="820" y="446" width="4" height="10" fill="#2a4bc2"/>
<rect x="820" y="418" width="4" height="28" fill="#48a58b"/>
<rect x="820" y="404" width="4" height="14" fill="#c25b2f"/>
<rect x="820" y="402" width="4" height="2" fill="#1c78d8"/>
<rect x="820" y="362" width="4" height="40" fill="#6fb9ac"/>
<rect x="820" y="352" width="4" height="10" fill="#d67c54"/>
<rect x="820" y="314" width="4" height="38" fill="#66a2d9"/>
<rect x="820" y="310" width="4" height="4" fill="#1a8b74"/>
<rect x="826" y="482" width="4" height="74" fill="#0d797e"/>
<rect x="826" y="470" width="4" height="12" fill="#e0b3a2"/>
<rect x="826" y="464" width="4" height="6" fill="#2a4bc2"/>
<rect x="826" y="440" width="4" height="24" fill="#48a58b"/>
<rect x="826" y="430" width="4" height="10" fill="#c25b2f"/>
<rect x="826" y="428" width="4" height="2" fill="#1c78d8"/>
<rect x="826" y="386" width="4" height="42" fill="#6fb9ac"/>
<rect x="826" y="378" width="4" height="8" fill="#d67c54"/>
<rect x="826" y="354" width="4" height="24" fill="#66a2d9"/>
<rect x="826" y="352" width="4" height="2" fill="#1a8b74"/>
<rect x="832" y="466" width="4" height="90" fill="#0d797e"/>
<rect x="832" y="450" width="4" height="16" fill="#e0b3a2"/>
<rect x="832" y="442" width="4" height="8" fill="#2a4bc2"/>
<rect x="832" y="400" width="4" height="42" fill="#48a58b"/>
<rect x="832" y="392" width="4" height="8" fill="#c25b2f"/>
<rect x="832" y="388" width="4" height="4" fill="#1c78d8"/>
<rect x="832" y="344" width="4" height="44" fill="#6fb9ac"/>
<rect x="832" y="336" width="4" height="8" fill="#d67c54"/>
<rect x="832" y="298" width="4" height="38" fill="#66a2d9"/>
<rect x="832" y="296" width="4" height="2" fill="#1a8b74"/>
<rect x="838" y="498" width="4" height="58" fill="#0d797e"/>
<rect x="838" y="490" width="4" height="8" fill="#e0b3a2"/>
<rect x="838" y="484" width="4" height="6" fill="#2a4bc2"/>
<rect x="838" y="466" width="4" height="18" fill="#48a58b"/>
<rect x="838" y="460" width="4" height="6" fill="#c25b2f"/>
<rect x="838" y="456" width="4" height="4" fill="#1c78d8"/>
<rect x="838" y="438" width="4" height="18" fill="#6fb9ac"/>
<rect x="838" y="432" width="4" height="6" fill="#d67c54"/>
<rect x="838" y="414" width="4" height="18" fill="#66a2d9"/>
<rect x="838" y="412" width="4" height="2" fill="#1a8b74"/>
<rect x="844" y="514" width="4" height="42" fill="#0d797e"/>
<rect x="844" y="508" width="4" height="6" fill="#e0b3a2"/>
<rect x="844" y="504" width="4" height="4" fill="#2a4bc2"/>
<rect x="844" y="492" width="4" height="12" fill="#48a58b"/>
<rect x="844" y="486" width="4" height="6" fill="#c25b2f"/>
<rect x="844" y="484" width="4" height="2" fill="#1c78d8"/>
<rect x="844" y="466" width="4" height="18" fill="#6fb9ac"/>
<rect x="844" y="462" width="4" height="4" fill="#d67c54"/>
<rect x="844" y="446" width="4" height="16" fill="#66a2d9"/>
<rect x="844" y="444" width="4" height="2" fill="#1a8b74"/>
<rect x="852" y="522" width="4" height="34" fill="#0d797e"/>
<rect x="852" y="518" width="4" height="4" fill="#e0b3a2"/>
<rect x="852" y="516" width="4" height="2" fill="#2a4bc2"/>
<rect x="852" y="508" width="4" height="8" fill="#48a58b"/>
<rect x="852" y="504" width="4" height="4" fill="#c25b2f"/>
<rect x="852" y="502" width="4" height="2" fill="#1c78d8"/>
<rect x="852" y="488" width="4" height="14" fill="#6fb9ac"/>
<rect x="852" y="486" width="4" height="2" fill="#d67c54"/>
<rect x="852" y="474" width="4" height="12" fill="#66a2d9"/>
<rect x="852" y="472" width="4" height="2" fill="#1a8b74"/>
<rect x="858" y="522" width="4" height="34" fill="#0d797e"/>
<rect x="858" y="514" width="4" height="8" fill="#e0b3a2"/>
<rect x="858" y="512" width="4" height="2" fill="#2a4bc2"/>
<rect x="858" y="500" width="4" height="12" fill="#48a58b"/>
<rect x="858" y="496" width="4" height="4" fill="#c25b2f"/>
<rect x="858" y="484" width="4" height="12" fill="#6fb9ac"/>
<rect x="858" y="480" width="4" height="4" fill="#d67c54"/>
<rect x="858" y="466" width="4" height="14" fill="#66a2d9"/>
<rect x="858" y="464" width="4" height="2" fill="#1a8b74"/>
<rect x="864" y="524" width="4" height="32" fill="#0d797e"/>
<rect x="864" y="520" width="4" height="4" fill="#e0b3a2"/>
<rect x="864" y="518" width="4" height="2" fill="#2a4bc2"/>
<rect x="864" y="506" width="4" height="12" fill="#48a58b"/>
<rect x="864" y="502" width="4" height="4" fill="#c25b2f"/>
<rect x="864" y="500" width="4" height="2" fill="#1c78d8"/>
<rect x="864" y="488" width="4" height="12" fill="#6fb9ac"/>
<rect x="864" y="484" width="4" height="4" fill="#d67c54"/>
<rect x="864" y="478" width="4" height="6" fill="#66a2d9"/>
<rect x="864" y="476" width="4" height="2" fill="#1a8b74"/>
<rect x="870" y="532" width="4" height="24" fill="#0d797e"/>
<rect x="870" y="524" width="4" height="8" fill="#e0b3a2"/>
<rect x="870" y="522" width="4" height="2" fill="#2a4bc2"/>
<rect x="870" y="512" width="4" height="10" fill="#48a58b"/>
<rect x="870" y="510" width="4" height="2" fill="#c25b2f"/>
<rect x="870" y="508" width="4" height="2" fill="#1c78d8"/>
<rect x="870" y="496" width="4" height="12" fill="#6fb9ac"/>
<rect x="870" y="494" width="4" height="2" fill="#d67c54"/>
<rect x="870" y="486" width="4" height="8" fill="#66a2d9"/>
<rect x="870" y="484" width="4" height="2" fill="#1a8b74"/>
<rect x="876" y="522" width="4" height="34" fill="#0d797e"/>
<rect x="876" y="518" width="4" height="4" fill="#e0b3a2"/>
<rect x="876" y="514" width="4" height="4" fill="#2a4bc2"/>
<rect x="876" y="502" width="4" height="12" fill="#48a58b"/>
<rect x="876" y="498" width="4" height="4" fill="#c25b2f"/>
<rect x="876" y="496" width="4" height="2" fill="#1c78d8"/>
<rect x="876" y="482" width="4" height="14" fill="#6fb9ac"/>
<rect x="876" y="480" width="4" height="2" fill="#d67c54"/>
<rect x="876" y="464" width="4" height="16" fill="#66a2d9"/>
<rect x="876" y="462" width="4" height="2" fill="#1a8b74"/>
<rect x="882" y="498" width="4" height="58" fill="#0d797e"/>
<rect x="882" y="492" width="4" height="6" fill="#e0b3a2"/>
<rect x="882" y="488" width="4" height="4" fill="#2a4bc2"/>
<rect x="882" y="470" width="4" height="18" fill="#48a58b"/>
<rect x="882" y="464" width="4" height="6" fill="#c25b2f"/>
<rect x="882" y="462" width="4" height="2" fill="#1c78d8"/>
<rect x="882" y="436" width="4" height="26" fill="#6fb9ac"/>
<rect x="882" y="430" width="4" height="6" fill="#d67c54"/>
<rect x="882" y="396" width="4" height="34" fill="#66a2d9"/>
<rect x="882" y="394" width="4" height="2" fill="#1a8b74"/>
<rect x="888" y="506" width="4" height="50" fill="#0d797e"/>
<rect x="888" y="494" width="4" height="12" fill="#e0b3a2"/>
<rect x="888" y="492" width="4" height="2" fill="#2a4bc2"/>
<rect x="888" y="474" width="4" height="18" fill="#48a58b"/>
<rect x="888" y="468" width="4" height="6" fill="#c25b2f"/>
<rect x="888" y="466" width="4" height="2" fill="#1c78d8"/>
<rect x="888" y="440" width="4" height="26" fill="#6fb9ac"/>
<rect x="888" y="438" width="4" height="2" fill="#d67c54"/>
<rect x="888" y="408" width="4" height="30" fill="#66a2d9"/>
<rect x="888" y="404" width="4" height="4" fill="#1a8b74"/>
<rect x="894" y="528" width="4" height="28" fill="#0d797e"/>
<rect x="894" y="524" width="4" height="4" fill="#e0b3a2"/>
<rect x="894" y="522" width="4" height="2" fill="#2a4bc2"/>
<rect x="894" y="514" width="4" height="8" fill="#48a58b"/>
<rect x="894" y="512" width="4" height="2" fill="#c25b2f"/>
<rect x="894" y="510" width="4" height="2" fill="#1c78d8"/>
<rect x="894" y="498" width="4" height="12" fill="#6fb9ac"/>
<rect x="894" y="496" width="4" height="2" fill="#d67c54"/>
<rect x="894" y="486" width="4" height="10" fill="#66a2d9"/>
<rect x="894" y="484" width="4" height="2" fill="#1a8b74"/>
<rect x="900" y="532" width="4" height="24" fill="#0d797e"/>
<rect x="900" y="530" width="4" height="2" fill="#e0b3a2"/>
<rect x="900" y="528" width="4" height="2" fill="#2a4bc2"/>
<rect x="900" y="522" width="4" height="6" fill="#48a58b"/>
<rect x="900" y="520" width="4" height="2" fill="#c25b2f"/>
<rect x="900" y="518" width="4" height="2" fill="#1c78d8"/>
<rect x="900" y="510" width="4" height="8" fill="#6fb9ac"/>
<rect x="900" y="508" width="4" height="2" fill="#d67c54"/>
<rect x="900" y="502" width="4" height="6" fill="#66a2d9"/>
<rect x="900" y="500" width="4" height="2" fill="#1a8b74"/>
<rect x="908" y="526" width="4" height="30" fill="#0d797e"/>
<rect x="908" y="522" width="4" height="4" fill="#e0b3a2"/>
<rect x="908" y="520" width="4" height="2" fill="#2a4bc2"/>
<rect x="908" y="514" width="4" height="6" fill="#48a58b"/>
<rect x="908" y="512" width="4" height="2" fill="#c25b2f"/>
<rect x="908" y="510" width="4" height="2" fill="#1c78d8"/>
<rect x="908" y="496" width="4" height="14" fill="#6fb9ac"/>
<rect x="908" y="494" width="4" height="2" fill="#d67c54"/>
<rect x="908" y="484" width="4" height="10" fill="#66a2d9"/>
<rect x="908" y="482" width="4" height="2" fill="#1a8b74"/>
<rect x="914" y="532" width="4" height="24" fill="#0d797e"/>
<rect x="914" y="530" width="4" height="2" fill="#e0b3a2"/>
<rect x="914" y="526" width="4" height="4" fill="#2a4bc2"/>
<rect x="914" y="522" width="4" height="4" fill="#48a58b"/>
<rect x="914" y="518" width="4" height="4" fill="#c25b2f"/>
<rect x="914" y="508" width="4" height="10" fill="#6fb9ac"/>
<rect x="914" y="506" width="4" height="2" fill="#d67c54"/>
<rect x="914" y="500" width="4" height="6" fill="#66a2d9"/>
<rect x="914" y="498" width="4" height="2" fill="#1a8b74"/>
<rect x="920" y="530" width="4" height="26" fill="#0d797e"/>
<rect x="920" y="524" width="4" height="6" fill="#e0b3a2"/>
<rect x="920" y="522" width="4" height="2" fill="#2a4bc2"/>
<rect x="920" y="518" width="4" height="4" fill="#48a58b"/>
<rect x="920" y="514" width="4" height="4" fill="#c25b2f"/>
<rect x="920" y="500" width="4" height="14" fill="#6fb9ac"/>
<rect x="920" y="490" width="4" height="10" fill="#66a2d9"/>
<rect x="920" y="488" width="4" height="2" fill="#1a8b74"/>
<rect x="926" y="526" width="4" height="30" fill="#0d797e"/>
<rect x="926" y="522" width="4" height="4" fill="#e0b3a2"/>
<rect x="926" y="518" width="4" height="4" fill="#2a4bc2"/>
<rect x="926" y="512" width="4" height="6" fill="#48a58b"/>
<rect x="926" y="508" width="4" height="4" fill="#c25b2f"/>
<rect x="926" y="496" width="4" height="12" fill="#6fb9ac"/>
<rect x="926" y="494" width="4" height="2" fill="#d67c54"/>
<rect x="926" y="484" width="4" height="10" fill="#66a2d9"/>
<rect x="926" y="482" width="4" height="2" fill="#1a8b74"/>
<rect x="932" y="536" width="4" height="20" fill="#0d797e"/>
<rect x="932" y="532" width="4" height="4" fill="#e0b3a2"/>
<rect x="932" y="530" width="4" height="2" fill="#2a4bc2"/>
<rect x="932" y="526" width="4" height="4" fill="#48a58b"/>
<rect x="932" y="522" width="4" height="4" fill="#c25b2f"/>
<rect x="932" y="516" width="4" height="6" fill="#6fb9ac"/>
<rect x="932" y="506" width="4" height="10" fill="#66a2d9"/>
<rect x="938" y="530" width="4" height="26" fill="#0d797e"/>
<rect x="938" y="526" width="4" height="4" fill="#e0b3a2"/>
<rect x="938" y="524" width="4" height="2" fill="#2a4bc2"/>
<rect x="938" y="520" width="4" height="4" fill="#48a58b"/>
<rect x="938" y="518" width="4" height="2" fill="#c25b2f"/>
<rect x="938" y="508" width="4" height="10" fill="#6fb9ac"/>
<rect x="938" y="506" width="4" height="2" fill="#d67c54"/>
<rect x="938" y="500" width="4" height="6" fill="#66a2d9"/>
<rect x="938" y="498" width="4" height="2" fill="#1a8b74"/>
<rect x="944" y="524" width="4" height="32" fill="#0d797e"/>
<rect x="944" y="520" width="4" height="4" fill="#e0b3a2"/>
<rect x="944" y="518" width="4" height="2" fill="#2a4bc2"/>
<rect x="944" y="514" width="4" height="4" fill="#48a58b"/>
<rect x="944" y="512" width="4" height="2" fill="#c25b2f"/>
<rect x="944" y="510" width="4" height="2" fill="#1c78d8"/>
<rect x="944" y="500" width="4" height="10" fill="#6fb9ac"/>
<rect x="944" y="490" width="4" height="10" fill="#66a2d9"/>
<rect x="950" y="530" width="4" height="26" fill="#0d797e"/>
<rect x="950" y="528" width="4" height="2" fill="#e0b3a2"/>
<rect x="950" y="524" width="4" height="4" fill="#2a4bc2"/>
<rect x="950" y="520" width="4" height="4" fill="#48a58b"/>
<rect x="950" y="518" width="4" height="2" fill="#c25b2f"/>
<rect x="950" y="516" width="4" height="2" fill="#1c78d8"/>
<rect x="950" y="508" width="4" height="8" fill="#6fb9ac"/>
<rect x="950" y="506" width="4" height="2" fill="#d67c54"/>
<rect x="950" y="502" width="4" height="4" fill="#66a2d9"/>
<rect x="950" y="500" width="4" height="2" fill="#1a8b74"/>
<rect x="956" y="510" width="4" height="46" fill="#0d797e"/>
<rect x="956" y="502" width="4" height="8" fill="#e0b3a2"/>
<rect x="956" y="496" width="4" height="6" fill="#2a4bc2"/>
<rect x="956" y="482" width="4" height="14" fill="#48a58b"/>
<rect x="956" y="478" width="4" height="4" fill="#c25b2f"/>
<rect x="956" y="476" width="4" height="2" fill="#1c78d8"/>
<rect x="956" y="456" width="4" height="20" fill="#6fb9ac"/>
<rect x="956" y="452" width="4" height="4" fill="#d67c54"/>
<rect x="956" y="442" width="4" height="10" fill="#66a2d9"/>
<rect x="956" y="440" width="4" height="2" fill="#1a8b74"/>
<rect x="962" y="516" width="4" height="40" fill="#0d797e"/>
<rect x="962" y="504" width="4" height="12" fill="#e0b3a2"/>
<rect x="962" y="500" width="4" height="4" fill="#2a4bc2"/>
<rect x="962" y="488" width="4" height="12" fill="#48a58b"/>
<rect x="962" y="484" width="4" height="4" fill="#c25b2f"/>
<rect x="962" y="482" width="4" height="2" fill="#1c78d8"/>
<rect x="962" y="470" width="4" height="12" fill="#6fb9ac"/>
<rect x="962" y="466" width="4" height="4" fill="#d67c54"/>
<rect x="962" y="458" width="4" height="8" fill="#66a2d9"/>
<rect x="962" y="456" width="4" height="2" fill="#1a8b74"/>
<rect x="970" y="524" width="4" height="32" fill="#0d797e"/>
<rect x="970" y="518" width="4" height="6" fill="#e0b3a2"/>
<rect x="970" y="516" width="4" height="2" fill="#2a4bc2"/>
<rect x="970" y="506" width="4" height="10" fill="#48a58b"/>
<rect x="970" y="502" width="4" height="4" fill="#c25b2f"/>
<rect x="970" y="492" width="4" height="10" fill="#6fb9ac"/>
<rect x="970" y="490" width="4" height="2" fill="#d67c54"/>
<rect x="970" y="484" width="4" height="6" fill="#66a2d9"/>
<rect x="970" y="482" width="4" height="2" fill="#1a8b74"/>
<rect x="976" y="534" width="4" height="22" fill="#0d797e"/>
<rect x="976" y="530" width="4" height="4" fill="#e0b3a2"/>
<rect x="976" y="528" width="4" height="2" fill="#2a4bc2"/>
<rect x="976" y="520" width="4" height="8" fill="#48a58b"/>
<rect x="976" y="518" width="4" height="2" fill="#c25b2f"/>
<rect x="976" y="516" width="4" height="2" fill="#1c78d8"/>
<rect x="976" y="506" width="4" height="10" fill="#6fb9ac"/>
<rect x="976" y="504" width="4" height="2" fill="#d67c54"/>
<rect x="976" y="500" width="4" height="4" fill="#66a2d9"/>
<rect x="976" y="498" width="4" height="2" fill="#1a8b74"/>
<rect x="982" y="488" width="4" height="68" fill="#0d797e"/>
<rect x="982" y="476" width="4" height="12" fill="#e0b3a2"/>
<rect x="982" y="472" width="4" height="4" fill="#2a4bc2"/>
<rect x="982" y="450" width="4" height="22" fill="#48a58b"/>
<rect x="982" y="440" width="4" height="10" fill="#c25b2f"/>
<rect x="982" y="436" width="4" height="4" fill="#1c78d8"/>
<rect x="982" y="400" width="4" height="36" fill="#6fb9ac"/>
<rect x="982" y="392" width="4" height="8" fill="#d67c54"/>
<rect x="982" y="372" width="4" height="20" fill="#66a2d9"/>
<rect x="982" y="366" width="4" height="6" fill="#1a8b74"/>
<rect x="988" y="530" width="4" height="26" fill="#0d797e"/>
<rect x="988" y="526" width="4" height="4" fill="#e0b3a2"/>
<rect x="988" y="524" width="4" height="2" fill="#2a4bc2"/>
<rect x="988" y="516" width="4" height="8" fill="#48a58b"/>
<rect x="988" y="512" width="4" height="4" fill="#c25b2f"/>
<rect x="988" y="510" width="4" height="2" fill="#1c78d8"/>
<rect x="988" y="498" width="4" height="12" fill="#6fb9ac"/>
<rect x="988" y="496" width="4" height="2" fill="#d67c54"/>
<rect x="988" y="490" width="4" height="6" fill="#66a2d9"/>
<rect x="988" y="488" width="4" height="2" fill="#1a8b74"/>
<rect x="994" y="540" width="4" height="16" fill="#0d797e"/>
<rect x="994" y="536" width="4" height="4" fill="#e0b3a2"/>
<rect x="994" y="530" width="4" height="6" fill="#48a58b"/>
<rect x="994" y="528" width="4" height="2" fill="#c25b2f"/>
<rect x="994" y="526" width="4" height="2" fill="#1c78d8"/>
<rect x="994" y="520" width="4" height="6" fill="#6fb9ac"/>
<rect x="994" y="518" width="4" height="2" fill="#d67c54"/>
<rect x="994" y="514" width="4" height="4" fill="#66a2d9"/>
<rect x="994" y="512" width="4" height="2" fill="#1a8b74"/>
<rect x="1000" y="540" width="4" height="16" fill="#0d797e"/>
<rect x="1000" y="538" width="4" height="2" fill="#e0b3a2"/>
<rect x="1000" y="532" width="4" height="6" fill="#48a58b"/>
<rect x="1000" y="530" width="4" height="2" fill="#c25b2f"/>
<rect x="1000" y="528" width="4" height="2" fill="#1c78d8"/>
<rect x="1000" y="524" width="4" height="4" fill="#6fb9ac"/>
<rect x="1000" y="522" width="4" height="2" fill="#d67c54"/>
<rect x="1000" y="518" width="4" height="4" fill="#66a2d9"/>
<rect x="1000" y="516" width="4" height="2" fill="#1a8b74"/>
<rect x="1006" y="542" width="4" height="14" fill="#0d797e"/>
<rect x="1006" y="540" width="4" height="2" fill="#e0b3a2"/>
<rect x="1006" y="534" width="4" height="6" fill="#48a58b"/>
<rect x="1006" y="532" width="4" height="2" fill="#c25b2f"/>
<rect x="1006" y="526" width="4" height="6" fill="#6fb9ac"/>
<rect x="1006" y="524" width="4" height="2" fill="#d67c54"/>
<rect x="1006" y="520" width="4" height="4" fill="#66a2d9"/>
<rect x="1006" y="518" width="4" height="2" fill="#1a8b74"/>
<rect x="1012" y="548" width="4" height="8" fill="#0d797e"/>
<rect x="1012" y="546" width="4" height="2" fill="#e0b3a2"/>
<rect x="1012" y="542" width="4" height="4" fill="#48a58b"/>
<rect x="1012" y="540" width="4" height="2" fill="#c25b2f"/>
<rect x="1012" y="536" width="4" height="4" fill="#6fb9ac"/>
<rect x="1012" y="532" width="4" height="4" fill="#66a2d9"/>
<rect x="1018" y="534" width="4" height="22" fill="#0d797e"/>
<rect x="1018" y="530" width="4" height="4" fill="#e0b3a2"/>
<rect x="1018" y="528" width="4" height="2" fill="#2a4bc2"/>
<rect x="1018" y="518" width="4" height="10" fill="#48a58b"/>
<rect x="1018" y="516" width="4" height="2" fill="#c25b2f"/>
<rect x="1018" y="506" width="4" height="10" fill="#6fb9ac"/>
<rect x="1018" y="504" width="4" height="2" fill="#d67c54"/>
<rect x="1018" y="498" width="4" height="6" fill="#66a2d9"/>
<rect x="1018" y="496" width="4" height="2" fill="#1a8b74"/>
<rect x="1026" y="540" width="4" height="16" fill="#0d797e"/>
<rect x="1026" y="536" width="4" height="4" fill="#e0b3a2"/>
<rect x="1026" y="534" width="4" height="2" fill="#2a4bc2"/>
<rect x="1026" y="524" width="4" height="10" fill="#48a58b"/>
<rect x="1026" y="522" width="4" height="2" fill="#c25b2f"/>
<rect x="1026" y="520" width="4" height="2" fill="#1c78d8"/>
<rect x="1026" y="510" width="4" height="10" fill="#6fb9ac"/>
<rect x="1026" y="506" width="4" height="4" fill="#d67c54"/>
<rect x="1026" y="500" width="4" height="6" fill="#66a2d9"/>
<rect x="1032" y="532" width="4" height="24" fill="#0d797e"/>
<rect x="1032" y="526" width="4" height="6" fill="#e0b3a2"/>
<rect x="1032" y="524" width="4" height="2" fill="#2a4bc2"/>
<rect x="1032" y="516" width="4" height="8" fill="#48a58b"/>
<rect x="1032" y="512" width="4" height="4" fill="#c25b2f"/>
<rect x="1032" y="496" width="4" height="16" fill="#6fb9ac"/>
<rect x="1032" y="494" width="4" height="2" fill="#d67c54"/>
<rect x="1032" y="480" width="4" height="14" fill="#66a2d9"/>
<rect x="1032" y="478" width="4" height="2" fill="#1a8b74"/>
<rect x="1038" y="544" width="4" height="12" fill="#0d797e"/>
<rect x="1038" y="542" width="4" height="2" fill="#2a4bc2"/>
<rect x="1038" y="538" width="4" height="4" fill="#48a58b"/>
<rect x="1038" y="536" width="4" height="2" fill="#c25b2f"/>
<rect x="1038" y="530" width="4" height="6" fill="#6fb9ac"/>
<rect x="1038" y="524" width="4" height="6" fill="#66a2d9"/>
<rect x="1044" y="546" width="4" height="10" fill="#0d797e"/>
<rect x="1044" y="544" width="4" height="2" fill="#e0b3a2"/>
<rect x="1044" y="540" width="4" height="4" fill="#48a58b"/>
<rect x="1044" y="538" width="4" height="2" fill="#c25b2f"/>
<rect x="1044" y="532" width="4" height="6" fill="#6fb9ac"/>
<rect x="1044" y="526" width="4" height="6" fill="#66a2d9"/>
<rect x="1050" y="544" width="4" height="12" fill="#0d797e"/>
<rect x="1050" y="542" width="4" height="2" fill="#e0b3a2"/>
<rect x="1050" y="538" width="4" height="4" fill="#48a58b"/>
<rect x="1050" y="536" width="4" height="2" fill="#c25b2f"/>
<rect x="1050" y="528" width="4" height="8" fill="#6fb9ac"/>
<rect x="1050" y="522" width="4" height="6" fill="#66a2d9"/>
<rect x="1056" y="538" width="4" height="18" fill="#0d797e"/>
<rect x="1056" y="536" width="4" height="2" fill="#e0b3a2"/>
<rect x="1056" y="530" width="4" height="6" fill="#48a58b"/>
<rect x="1056" y="528" width="4" height="2" fill="#c25b2f"/>
<rect x="1056" y="518" width="4" height="10" fill="#6fb9ac"/>
<rect x="1056" y="512" width="4" height="6" fill="#66a2d9"/>
<rect x="1062" y="544" width="4" height="12" fill="#0d797e"/>
<rect x="1062" y="542" width="4" height="2" fill="#e0b3a2"/>
<rect x="1062" y="538" width="4" height="4" fill="#48a58b"/>
<rect x="1062" y="536" width="4" height="2" fill="#c25b2f"/>
<rect x="1062" y="530" width="4" height="6" fill="#6fb9ac"/>
<rect x="1062" y="528" width="4" height="2" fill="#d67c54"/>
<rect x="1062" y="526" width="4" height="2" fill="#66a2d9"/>
<rect x="1068" y="536" width="4" height="20" fill="#0d797e"/>
<rect x="1068" y="532" width="4" height="4" fill="#e0b3a2"/>
<rect x="1068" y="526" width="4" height="6" fill="#48a58b"/>
<rect x="1068" y="522" width="4" height="4" fill="#c25b2f"/>
<rect x="1068" y="512" width="4" height="10" fill="#6fb9ac"/>
<rect x="1068" y="510" width="4" height="2" fill="#d67c54"/>
<rect x="1068" y="506" width="4" height="4" fill="#66a2d9"/>
<rect x="1074" y="542" width="4" height="14" fill="#0d797e"/>
<rect x="1074" y="540" width="4" height="2" fill="#e0b3a2"/>
<rect x="1074" y="538" width="4" height="2" fill="#2a4bc2"/>
<rect x="1074" y="534" width="4" height="4" fill="#48a58b"/>
<rect x="1074" y="532" width="4" height="2" fill="#c25b2f"/>
<rect x="1074" y="530" width="4" height="2" fill="#1c78d8"/>
<rect x="1074" y="524" width="4" height="6" fill="#6fb9ac"/>
<rect x="1074" y="518" width="4" height="6" fill="#66a2d9"/>
<rect x="1080" y="534" width="4" height="22" fill="#0d797e"/>
<rect x="1080" y="532" width="4" height="2" fill="#e0b3a2"/>
<rect x="1080" y="530" width="4" height="2" fill="#2a4bc2"/>
<rect x="1080" y="526" width="4" height="4" fill="#48a58b"/>
<rect x="1080" y="522" width="4" height="4" fill="#c25b2f"/>
<rect x="1080" y="514" width="4" height="8" fill="#6fb9ac"/>
<rect x="1080" y="506" width="4" height="8" fill="#66a2d9"/>
<rect x="1080" y="504" width="4" height="2" fill="#1a8b74"/>
<rect x="1088" y="536" width="4" height="20" fill="#0d797e"/>
<rect x="1088" y="534" width="4" height="2" fill="#e0b3a2"/>
<rect x="1088" y="532" width="4" height="2" fill="#2a4bc2"/>
<rect x="1088" y="528" width="4" height="4" fill="#48a58b"/>
<rect x="1088" y="526" width="4" height="2" fill="#c25b2f"/>
<rect x="1088" y="524" width="4" height="2" fill="#1c78d8"/>
<rect x="1088" y="520" width="4" height="4" fill="#6fb9ac"/>
<rect x="1088" y="514" width="4" height="6" fill="#66a2d9"/>
<rect x="1088" y="512" width="4" height="2" fill="#1a8b74"/>
<rect x="1094" y="540" width="4" height="16" fill="#0d797e"/>
<rect x="1094" y="536" width="4" height="4" fill="#e0b3a2"/>
<rect x="1094" y="532" width="4" height="4" fill="#48a58b"/>
<rect x="1094" y="530" width="4" height="2" fill="#c25b2f"/>
<rect x="1094" y="524" width="4" height="6" fill="#6fb9ac"/>
<rect x="1094" y="522" width="4" height="2" fill="#d67c54"/>
<rect x="1094" y="512" width="4" height="10" fill="#66a2d9"/>
<rect x="1094" y="510" width="4" height="2" fill="#1a8b74"/>
<rect x="1100" y="540" width="4" height="16" fill="#0d797e"/>
<rect x="1100" y="538" width="4" height="2" fill="#e0b3a2"/>
<rect x="1100" y="534" width="4" height="4" fill="#48a58b"/>
<rect x="1100" y="532" width="4" height="2" fill="#c25b2f"/>
<rect x="1100" y="530" width="4" height="2" fill="#1c78d8"/>
<rect x="1100" y="524" width="4" height="6" fill="#6fb9ac"/>
<rect x="1100" y="522" width="4" height="2" fill="#d67c54"/>
<rect x="1100" y="512" width="4" height="10" fill="#66a2d9"/>
<rect x="1106" y="536" width="4" height="20" fill="#0d797e"/>
<rect x="1106" y="534" width="4" height="2" fill="#e0b3a2"/>
<rect x="1106" y="532" width="4" height="2" fill="#2a4bc2"/>
<rect x="1106" y="528" width="4" height="4" fill="#48a58b"/>
<rect x="1106" y="524" width="4" height="4" fill="#c25b2f"/>
<rect x="1106" y="516" width="4" height="8" fill="#6fb9ac"/>
<rect x="1106" y="514" width="4" height="2" fill="#d67c54"/>
<rect x="1106" y="512" width="4" height="2" fill="#66a2d9"/>
<rect x="1106" y="510" width="4" height="2" fill="#1a8b74"/>
<rect x="1112" y="544" width="4" height="12" fill="#0d797e"/>
<rect x="1112" y="542" width="4" height="2" fill="#e0b3a2"/>
<rect x="1112" y="538" width="4" height="4" fill="#48a58b"/>
<rect x="1112" y="536" width="4" height="2" fill="#c25b2f"/>
<rect x="1112" y="532" width="4" height="4" fill="#6fb9ac"/>
<rect x="1112" y="530" width="4" height="2" fill="#d67c54"/>
<rect x="1112" y="528" width="4" height="2" fill="#66a2d9"/>
<rect x="1118" y="444" width="4" height="112" fill="#0d797e"/>
<rect x="1118" y="422" width="4" height="22" fill="#e0b3a2"/>
<rect x="1118" y="416" width="4" height="6" fill="#2a4bc2"/>
<rect x="1118" y="378" width="4" height="38" fill="#48a58b"/>
<rect x="1118" y="364" width="4" height="14" fill="#c25b2f"/>
<rect x="1118" y="358" width="4" height="6" fill="#1c78d8"/>
<rect x="1118" y="280" width="4" height="78" fill="#6fb9ac"/>
<rect x="1118" y="264" width="4" height="16" fill="#d67c54"/>
<rect x="1118" y="208" width="4" height="56" fill="#66a2d9"/>
<rect x="1118" y="198" width="4" height="10" fill="#1a8b74"/>
<rect x="1124" y="494" width="4" height="62" fill="#0d797e"/>
<rect x="1124" y="484" width="4" height="10" fill="#e0b3a2"/>
<rect x="1124" y="480" width="4" height="4" fill="#2a4bc2"/>
<rect x="1124" y="464" width="4" height="16" fill="#48a58b"/>
<rect x="1124" y="458" width="4" height="6" fill="#c25b2f"/>
<rect x="1124" y="456" width="4" height="2" fill="#1c78d8"/>
<rect x="1124" y="428" width="4" height="28" fill="#6fb9ac"/>
<rect x="1124" y="424" width="4" height="4" fill="#d67c54"/>
<rect x="1124" y="408" width="4" height="16" fill="#66a2d9"/>
<rect x="1124" y="404" width="4" height="4" fill="#1a8b74"/>
<rect x="1130" y="506" width="4" height="50" fill="#0d797e"/>
<rect x="1130" y="498" width="4" height="8" fill="#e0b3a2"/>
<rect x="1130" y="496" width="4" height="2" fill="#2a4bc2"/>
<rect x="1130" y="478" width="4" height="18" fill="#48a58b"/>
<rect x="1130" y="470" width="4" height="8" fill="#c25b2f"/>
<rect x="1130" y="466" width="4" height="4" fill="#1c78d8"/>
<rect x="1130" y="438" width="4" height="28" fill="#6fb9ac"/>
<rect x="1130" y="432" width="4" height="6" fill="#d67c54"/>
<rect x="1130" y="420" width="4" height="12" fill="#66a2d9"/>
<rect x="1130" y="416" width="4" height="4" fill="#1a8b74"/>
<rect x="1136" y="528" width="4" height="28" fill="#0d797e"/>
<rect x="1136" y="524" width="4" height="4" fill="#e0b3a2"/>
<rect x="1136" y="522" width="4" height="2" fill="#2a4bc2"/>
<rect x="1136" y="514" width="4" height="8" fill="#48a58b"/>
<rect x="1136" y="510" width="4" height="4" fill="#c25b2f"/>
<rect x="1136" y="496" width="4" height="14" fill="#6fb9ac"/>
<rect x="1136" y="494" width="4" height="2" fill="#d67c54"/>
<rect x="1136" y="486" width="4" height="8" fill="#66a2d9"/>
<rect x="1136" y="484" width="4" height="2" fill="#1a8b74"/>
<rect x="1144" y="544" width="4" height="12" fill="#0d797e"/>
<rect x="1144" y="540" width="4" height="4" fill="#e0b3a2"/>
<rect x="1144" y="534" width="4" height="6" fill="#48a58b"/>
<rect x="1144" y="532" width="4" height="2" fill="#c25b2f"/>
<rect x="1144" y="526" width="4" height="6" fill="#6fb9ac"/>
<rect x="1144" y="524" width="4" height="2" fill="#d67c54"/>
<rect x="1144" y="520" width="4" height="4" fill="#66a2d9"/>
</g>
<rect x="82" y="556" width="1076" height="2" fill="#595959" shape-rendering="crispEdges"/>
<text class="ax" transform="translate(63.7,33.8) scale(0.985,1)" text-anchor="end">$ 6b</text>
<text class="ax" transform="translate(63.7,231.5) scale(0.985,1)" text-anchor="end">$ 4b</text>
<text class="ax" transform="translate(63.7,399.7) scale(0.985,1)" text-anchor="end">$ 2b</text>
<text class="ax" transform="translate(63.7,565.9) scale(0.985,1)" text-anchor="end">$ 0</text>
<text class="ax" transform="translate(138.7,595.6)" text-anchor="middle">15 May</text>
<text class="ax" transform="translate(287.6,595.6)" text-anchor="middle">16 May</text>
<text class="ax" transform="translate(436.3,595.6)" text-anchor="middle">17 May</text>
<text class="ax" transform="translate(585.7,595.6)" text-anchor="middle">18 May</text>
<text class="ax" transform="translate(734.5,595.6)" text-anchor="middle">19 May</text>
<text class="ax" transform="translate(883.1,595.6)" text-anchor="middle">20 May</text>
<text class="ax" transform="translate(1032.3,595.6)" text-anchor="middle">21 May</text>
<circle cx="124.2" cy="648.3" r="10" fill="#0c7c86"/><text class="lg" x="149.8" y="655.7">Binance</text>
<circle cx="290.6" cy="648.3" r="10" fill="#e0b3a2"/><text class="lg" x="316.2" y="655.7">Bitfinex</text>
<circle cx="457.1" cy="648.3" r="10" fill="#2a4bc2"/><text class="lg" x="482.7" y="655.7">Bitstamp</text>
<circle cx="623.5" cy="648.3" r="10" fill="#48a58b"/><text class="lg" x="649.1" y="655.7">Coinbase</text>
<circle cx="790.0" cy="648.3" r="10" fill="#c25b2f"/><text class="lg" x="815.6" y="655.7">FTX</text>
<circle cx="956.5" cy="648.3" r="10" fill="#1c78d8"/><text class="lg" x="982.1" y="655.7">Gemini</text>
<circle cx="124.2" cy="679.7" r="10" fill="#6fb9ac"/><text class="lg" x="149.8" y="687.7">HuobiDM</text>
<circle cx="290.6" cy="679.7" r="10" fill="#d67c54"/><text class="lg" x="316.2" y="687.7">Kraken</text>
<circle cx="457.1" cy="679.7" r="10" fill="#66a2d9"/><text class="lg" x="482.7" y="687.7">OKEx</text>
</svg>
</body></html>
